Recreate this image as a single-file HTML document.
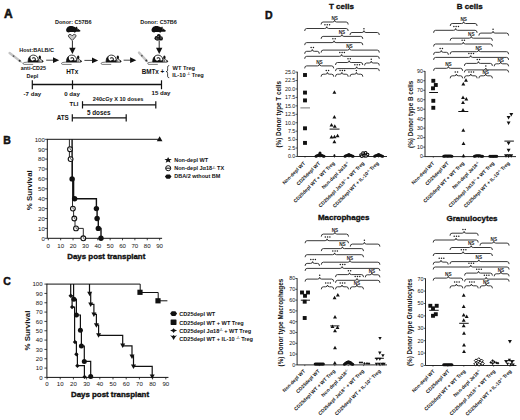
<!DOCTYPE html><html><head><meta charset="utf-8"><style>html,body{margin:0;padding:0;background:#fff;}svg{display:block;}text{font-family:"Liberation Sans",sans-serif;}</style></head><body>
<svg width="520" height="420" viewBox="0 0 520 420">
<rect width="520" height="420" fill="#fff"/>
<text x="4.00" y="17.90" font-size="12" text-anchor="start" font-weight="bold" fill="#111"  stroke="#111" stroke-width="0.54">A</text>
<text x="73.30" y="23.80" font-size="5.5" text-anchor="middle" font-weight="bold" fill="#111" >Donor: C57B6</text>
<text x="158.50" y="23.80" font-size="5.5" text-anchor="middle" font-weight="bold" fill="#111" >Donor: C57B6</text>
<text x="36.60" y="52.20" font-size="5.5" text-anchor="middle" font-weight="bold" fill="#111" >Host:BALB/C</text>
<text x="33.40" y="70.40" font-size="5.4" text-anchor="middle" font-weight="bold" fill="#111" >anti-CD25</text>
<text x="32.40" y="78.10" font-size="5.4" text-anchor="middle" font-weight="bold" fill="#111" >Depl</text>
<text x="72.30" y="73.60" font-size="6.4" text-anchor="middle" font-weight="bold" fill="#111" >HTx</text>
<text x="153.00" y="73.80" font-size="6.3" text-anchor="middle" font-weight="bold" fill="#111" >BMTx +</text>
<text x="172.60" y="69.80" font-size="5.7" text-anchor="start" font-weight="bold" fill="#111" >WT Treg</text>
<text x="172.3" y="77.2" font-size="5.7" font-weight="bold" fill="#111">IL-10 <tspan font-size="3.2" dy="-2">-/-</tspan><tspan dy="2"> Treg</tspan></text>
<path d="M169.2,65.6 C167.4,65.6 167.6,67 167.6,68.5 L167.6,70 C167.6,71.3 167,71.6 166,71.6 C167,71.6 167.6,72 167.6,73.3 L167.6,75 C167.6,76.5 167.4,77.7 169.2,77.7" fill="none" stroke="#111" stroke-width="0.8" />
<text x="32.40" y="96.00" font-size="6.1" text-anchor="middle" font-weight="bold" fill="#111" >-7 day</text>
<text x="72.00" y="96.00" font-size="6.1" text-anchor="middle" font-weight="bold" fill="#111" >0 day</text>
<text x="161.00" y="95.30" font-size="6.1" text-anchor="middle" font-weight="bold" fill="#111" >15 day</text>
<text x="78.50" y="106.30" font-size="6.0" text-anchor="end" font-weight="bold" fill="#111" >TLI</text>
<text x="92.70" y="100.90" font-size="5.6" text-anchor="start" font-weight="bold" fill="#111" >240cGy X 10 doses</text>
<text x="68.80" y="119.70" font-size="6.3" text-anchor="end" font-weight="bold" fill="#111" >ATS</text>
<text x="87.00" y="115.00" font-size="6.3" text-anchor="start" font-weight="bold" fill="#111" >5 doses</text>
<line x1="32.30" y1="84.50" x2="161.50" y2="84.50" stroke="#111" stroke-width="1.3" />
<line x1="32.30" y1="80.30" x2="32.30" y2="89.20" stroke="#111" stroke-width="1.2" />
<line x1="72.50" y1="80.30" x2="72.50" y2="89.20" stroke="#111" stroke-width="1.2" />
<line x1="161.50" y1="80.30" x2="161.50" y2="89.20" stroke="#111" stroke-width="1.2" />
<line x1="82.50" y1="104.80" x2="155.80" y2="104.80" stroke="#111" stroke-width="1.2" />
<line x1="82.50" y1="101.20" x2="82.50" y2="108.50" stroke="#111" stroke-width="1.2" />
<line x1="155.80" y1="101.20" x2="155.80" y2="108.50" stroke="#111" stroke-width="1.2" />
<line x1="72.30" y1="117.80" x2="126.20" y2="117.80" stroke="#111" stroke-width="1.2" />
<line x1="72.30" y1="114.20" x2="72.30" y2="121.50" stroke="#111" stroke-width="1.2" />
<line x1="126.20" y1="114.20" x2="126.20" y2="121.50" stroke="#111" stroke-width="1.2" />
<line x1="72.40" y1="41.00" x2="72.40" y2="48.90" stroke="#111" stroke-width="0.9" />
<path d="M69.20,47.70 L75.60,47.70 L72.40,53.90 Z" fill="#111"/>
<line x1="159.20" y1="40.50" x2="159.20" y2="48.90" stroke="#111" stroke-width="0.9" />
<path d="M156.00,47.70 L162.40,47.70 L159.20,53.90 Z" fill="#111"/>
<line x1="46.20" y1="60.20" x2="54.20" y2="60.20" stroke="#444" stroke-width="1.0" />
<path d="M53.00,57.30 L59.20,60.20 L53.00,63.10 Z" fill="#111"/>
<line x1="84.40" y1="60.40" x2="93.20" y2="60.40" stroke="#444" stroke-width="1.0" />
<path d="M92.00,57.50 L98.20,60.40 L92.00,63.30 Z" fill="#111"/>
<line x1="123.60" y1="60.20" x2="131.30" y2="60.20" stroke="#444" stroke-width="1.0" />
<path d="M130.10,57.30 L136.30,60.20 L130.10,63.10 Z" fill="#111"/>
<g transform="translate(22.60,54.50)"><path d="M6.0,7.5 L1.6,8.0 C0.2,8.2 0.2,9.9 1.6,9.9 L10.6,9.9" fill="none" stroke="#222" stroke-width="0.6"/><path d="M5.6,7.6 C5.3,3.2 7.8,0.6 10.8,0.6 C13.6,0.6 15.4,2.6 15.6,5.2 L15.6,7.6 Z" fill="#fff" stroke="#111" stroke-width="0.85"/><path d="M5.6,7.6 C5.3,4.4 6.4,2.4 8.2,1.4 C7.4,3.2 7.8,5.0 9.2,6.0 L11.2,6.4 L12.4,5.6 L14.0,6.0 L15.6,5.6 L15.6,7.6 Z" fill="#111"/><path d="M9.6,3.8 C10.6,2.8 12.8,3.2 12.8,4.8 C12.8,6.0 11.4,6.6 10.6,6.0" fill="none" stroke="#111" stroke-width="1.05"/><ellipse cx="17.2" cy="2.9" rx="1.15" ry="2.0" fill="#111"/><path d="M15.6,7.6 L15.9,4.8 C16.6,4.0 17.8,4.4 18.2,5.2 L20.2,6.3 C20.8,6.9 20.4,7.6 19.6,7.6 Z" fill="#fff" stroke="#111" stroke-width="0.8"/><circle cx="19.9" cy="6.8" r="0.75" fill="#111"/><circle cx="17.2" cy="6.4" r="0.6" fill="#111"/></g>
<g transform="translate(61.00,54.50)"><path d="M6.0,7.5 L1.6,8.0 C0.2,8.2 0.2,9.9 1.6,9.9 L10.6,9.9" fill="none" stroke="#222" stroke-width="0.6"/><path d="M5.6,7.6 C5.3,3.2 7.8,0.6 10.8,0.6 C13.6,0.6 15.4,2.6 15.6,5.2 L15.6,7.6 Z" fill="#fff" stroke="#111" stroke-width="0.85"/><path d="M5.6,7.6 C5.3,4.4 6.4,2.4 8.2,1.4 C7.4,3.2 7.8,5.0 9.2,6.0 L11.2,6.4 L12.4,5.6 L14.0,6.0 L15.6,5.6 L15.6,7.6 Z" fill="#111"/><path d="M9.6,3.8 C10.6,2.8 12.8,3.2 12.8,4.8 C12.8,6.0 11.4,6.6 10.6,6.0" fill="none" stroke="#111" stroke-width="1.05"/><ellipse cx="17.2" cy="2.9" rx="1.15" ry="2.0" fill="#111"/><path d="M15.6,7.6 L15.9,4.8 C16.6,4.0 17.8,4.4 18.2,5.2 L20.2,6.3 C20.8,6.9 20.4,7.6 19.6,7.6 Z" fill="#fff" stroke="#111" stroke-width="0.8"/><circle cx="19.9" cy="6.8" r="0.75" fill="#111"/><circle cx="17.2" cy="6.4" r="0.6" fill="#111"/></g>
<g transform="translate(100.60,54.50)"><path d="M6.0,7.5 L1.6,8.0 C0.2,8.2 0.2,9.9 1.6,9.9 L10.6,9.9" fill="none" stroke="#222" stroke-width="0.6"/><path d="M5.6,7.6 C5.3,3.2 7.8,0.6 10.8,0.6 C13.6,0.6 15.4,2.6 15.6,5.2 L15.6,7.6 Z" fill="#fff" stroke="#111" stroke-width="0.85"/><path d="M5.6,7.6 C5.3,4.4 6.4,2.4 8.2,1.4 C7.4,3.2 7.8,5.0 9.2,6.0 L11.2,6.4 L12.4,5.6 L14.0,6.0 L15.6,5.6 L15.6,7.6 Z" fill="#111"/><path d="M9.6,3.8 C10.6,2.8 12.8,3.2 12.8,4.8 C12.8,6.0 11.4,6.6 10.6,6.0" fill="none" stroke="#111" stroke-width="1.05"/><ellipse cx="17.2" cy="2.9" rx="1.15" ry="2.0" fill="#111"/><path d="M15.6,7.6 L15.9,4.8 C16.6,4.0 17.8,4.4 18.2,5.2 L20.2,6.3 C20.8,6.9 20.4,7.6 19.6,7.6 Z" fill="#fff" stroke="#111" stroke-width="0.8"/><circle cx="19.9" cy="6.8" r="0.75" fill="#111"/><circle cx="17.2" cy="6.4" r="0.6" fill="#111"/></g>
<g transform="translate(147.20,54.50)"><path d="M6.0,7.5 L1.6,8.0 C0.2,8.2 0.2,9.9 1.6,9.9 L10.6,9.9" fill="none" stroke="#222" stroke-width="0.6"/><path d="M5.6,7.6 C5.3,3.2 7.8,0.6 10.8,0.6 C13.6,0.6 15.4,2.6 15.6,5.2 L15.6,7.6 Z" fill="#fff" stroke="#111" stroke-width="0.85"/><path d="M5.6,7.6 C5.3,4.4 6.4,2.4 8.2,1.4 C7.4,3.2 7.8,5.0 9.2,6.0 L11.2,6.4 L12.4,5.6 L14.0,6.0 L15.6,5.6 L15.6,7.6 Z" fill="#111"/><path d="M9.6,3.8 C10.6,2.8 12.8,3.2 12.8,4.8 C12.8,6.0 11.4,6.6 10.6,6.0" fill="none" stroke="#111" stroke-width="1.05"/><ellipse cx="17.2" cy="2.9" rx="1.15" ry="2.0" fill="#111"/><path d="M15.6,7.6 L15.9,4.8 C16.6,4.0 17.8,4.4 18.2,5.2 L20.2,6.3 C20.8,6.9 20.4,7.6 19.6,7.6 Z" fill="#fff" stroke="#111" stroke-width="0.8"/><circle cx="19.9" cy="6.8" r="0.75" fill="#111"/><circle cx="17.2" cy="6.4" r="0.6" fill="#111"/></g>
<g transform="translate(66.00,25.80) scale(1.07)"><path d="M0.2,4.6 C-0.2,2.2 1.8,0.1 4.4,0.1 C6.4,0.1 8.0,0.7 9.2,1.6 L9.6,0.8 L10.4,1.0 L10.6,2.2 L13.4,4.4 C13.8,5.0 13.2,5.5 12.4,5.5 L9.4,5.6 L8.2,6.6 L7.2,5.8 L3.6,5.8 L2.6,6.2 C1.4,6.2 0.4,5.6 0.2,4.6 Z" fill="#111"/><circle cx="10.6" cy="2.9" r="0.5" fill="#777"/></g>
<g transform="translate(151.40,25.80) scale(1.07)"><path d="M0.2,4.6 C-0.2,2.2 1.8,0.1 4.4,0.1 C6.4,0.1 8.0,0.7 9.2,1.6 L9.6,0.8 L10.4,1.0 L10.6,2.2 L13.4,4.4 C13.8,5.0 13.2,5.5 12.4,5.5 L9.4,5.6 L8.2,6.6 L7.2,5.8 L3.6,5.8 L2.6,6.2 C1.4,6.2 0.4,5.6 0.2,4.6 Z" fill="#111"/><circle cx="10.6" cy="2.9" r="0.5" fill="#777"/></g>
<path d="M72.2,40.6 L68.9,37.0 C67.9,35.8 68.5,34.4 69.9,34.4 C71.0,34.4 71.7,35.1 72.2,35.8 C72.7,35.1 73.4,34.4 74.5,34.4 C75.9,34.4 76.5,35.8 75.5,37.0 Z" fill="#c8c8c8" stroke="#222" stroke-width="0.85" />
<circle cx="156.60" cy="38.20" r="2.1" fill="#111"/>
<circle cx="160.80" cy="38.40" r="2.2" fill="#111"/>
<circle cx="158.80" cy="36.00" r="2.0" fill="#111"/>
<circle cx="157.60" cy="39.20" r="1.6" fill="#333"/>
<circle cx="158.20" cy="36.40" r="0.7" fill="#888"/>
<circle cx="161.00" cy="38.00" r="0.7" fill="#888"/>
<circle cx="156.40" cy="38.00" r="0.6" fill="#888"/>
<line x1="9.60" y1="53.00" x2="20.16" y2="61.16" stroke="#c4c4c4" stroke-width="2.4" stroke-linecap="round"/>
<line x1="20.16" y1="61.16" x2="22.80" y2="63.20" stroke="#777" stroke-width="0.5" />
<circle cx="13.56" cy="56.06" r="0.9" fill="#555"/>
<circle cx="19.63" cy="60.75" r="1.0" fill="#333"/>
<line x1="139.00" y1="52.60" x2="146.68" y2="60.92" stroke="#c4c4c4" stroke-width="2.4" stroke-linecap="round"/>
<line x1="146.68" y1="60.92" x2="148.60" y2="63.00" stroke="#777" stroke-width="0.5" />
<circle cx="141.88" cy="55.72" r="0.9" fill="#555"/>
<circle cx="146.30" cy="60.50" r="1.0" fill="#333"/>
<text x="3.20" y="143.90" font-size="10.5" text-anchor="start" font-weight="bold" fill="#111"  stroke="#111" stroke-width="0.47">B</text>
<line x1="47.30" y1="138.90" x2="47.30" y2="238.30" stroke="#111" stroke-width="1.0" />
<line x1="47.30" y1="238.30" x2="162.10" y2="238.30" stroke="#111" stroke-width="1.0" />
<line x1="45.10" y1="238.30" x2="47.30" y2="238.30" stroke="#111" stroke-width="0.8" />
<text x="44.90" y="240.60" font-size="6.1" text-anchor="end" font-weight="normal" fill="#111" >0</text>
<line x1="45.10" y1="228.40" x2="47.30" y2="228.40" stroke="#111" stroke-width="0.8" />
<text x="44.90" y="230.70" font-size="6.1" text-anchor="end" font-weight="normal" fill="#111" >10</text>
<line x1="45.10" y1="218.50" x2="47.30" y2="218.50" stroke="#111" stroke-width="0.8" />
<text x="44.90" y="220.80" font-size="6.1" text-anchor="end" font-weight="normal" fill="#111" >20</text>
<line x1="45.10" y1="208.60" x2="47.30" y2="208.60" stroke="#111" stroke-width="0.8" />
<text x="44.90" y="210.90" font-size="6.1" text-anchor="end" font-weight="normal" fill="#111" >30</text>
<line x1="45.10" y1="198.70" x2="47.30" y2="198.70" stroke="#111" stroke-width="0.8" />
<text x="44.90" y="201.00" font-size="6.1" text-anchor="end" font-weight="normal" fill="#111" >40</text>
<line x1="45.10" y1="188.80" x2="47.30" y2="188.80" stroke="#111" stroke-width="0.8" />
<text x="44.90" y="191.10" font-size="6.1" text-anchor="end" font-weight="normal" fill="#111" >50</text>
<line x1="45.10" y1="178.90" x2="47.30" y2="178.90" stroke="#111" stroke-width="0.8" />
<text x="44.90" y="181.20" font-size="6.1" text-anchor="end" font-weight="normal" fill="#111" >60</text>
<line x1="45.10" y1="169.00" x2="47.30" y2="169.00" stroke="#111" stroke-width="0.8" />
<text x="44.90" y="171.30" font-size="6.1" text-anchor="end" font-weight="normal" fill="#111" >70</text>
<line x1="45.10" y1="159.10" x2="47.30" y2="159.10" stroke="#111" stroke-width="0.8" />
<text x="44.90" y="161.40" font-size="6.1" text-anchor="end" font-weight="normal" fill="#111" >80</text>
<line x1="45.10" y1="149.20" x2="47.30" y2="149.20" stroke="#111" stroke-width="0.8" />
<text x="44.90" y="151.50" font-size="6.1" text-anchor="end" font-weight="normal" fill="#111" >90</text>
<line x1="45.10" y1="139.30" x2="47.30" y2="139.30" stroke="#111" stroke-width="0.8" />
<text x="44.90" y="141.60" font-size="6.1" text-anchor="end" font-weight="normal" fill="#111" >100</text>
<line x1="48.30" y1="238.30" x2="48.30" y2="240.30" stroke="#111" stroke-width="0.8" />
<text x="48.30" y="247.60" font-size="6.1" text-anchor="middle" font-weight="normal" fill="#111" >0</text>
<line x1="60.67" y1="238.30" x2="60.67" y2="240.30" stroke="#111" stroke-width="0.8" />
<text x="60.67" y="247.60" font-size="6.1" text-anchor="middle" font-weight="normal" fill="#111" >10</text>
<line x1="73.04" y1="238.30" x2="73.04" y2="240.30" stroke="#111" stroke-width="0.8" />
<text x="73.04" y="247.60" font-size="6.1" text-anchor="middle" font-weight="normal" fill="#111" >20</text>
<line x1="85.41" y1="238.30" x2="85.41" y2="240.30" stroke="#111" stroke-width="0.8" />
<text x="85.41" y="247.60" font-size="6.1" text-anchor="middle" font-weight="normal" fill="#111" >30</text>
<line x1="97.78" y1="238.30" x2="97.78" y2="240.30" stroke="#111" stroke-width="0.8" />
<text x="97.78" y="247.60" font-size="6.1" text-anchor="middle" font-weight="normal" fill="#111" >40</text>
<line x1="110.15" y1="238.30" x2="110.15" y2="240.30" stroke="#111" stroke-width="0.8" />
<text x="110.15" y="247.60" font-size="6.1" text-anchor="middle" font-weight="normal" fill="#111" >50</text>
<line x1="122.52" y1="238.30" x2="122.52" y2="240.30" stroke="#111" stroke-width="0.8" />
<text x="122.52" y="247.60" font-size="6.1" text-anchor="middle" font-weight="normal" fill="#111" >60</text>
<line x1="134.89" y1="238.30" x2="134.89" y2="240.30" stroke="#111" stroke-width="0.8" />
<text x="134.89" y="247.60" font-size="6.1" text-anchor="middle" font-weight="normal" fill="#111" >70</text>
<line x1="147.26" y1="238.30" x2="147.26" y2="240.30" stroke="#111" stroke-width="0.8" />
<text x="147.26" y="247.60" font-size="6.1" text-anchor="middle" font-weight="normal" fill="#111" >80</text>
<line x1="159.63" y1="238.30" x2="159.63" y2="240.30" stroke="#111" stroke-width="0.8" />
<text x="159.63" y="247.60" font-size="6.1" text-anchor="middle" font-weight="normal" fill="#111" >90</text>
<text x="106.30" y="258.70" font-size="7.9" text-anchor="middle" font-weight="bold" fill="#111"  stroke="#111" stroke-width="0.36">Days post transplant</text>
<text transform="translate(31.5,190.2) rotate(-90)" font-size="7.9" font-weight="bold" text-anchor="middle" fill="#111">% Survival</text>
<line x1="47.30" y1="139.30" x2="159.63" y2="139.30" stroke="#111" stroke-width="1.0" />
<path d="M159.63,136.28 L162.43,141.32 L156.83,141.32 Z" fill="#111"/>
<path d="M69.4,139.30 V159.10 H72.5 V208.60 H73.6 V218.50 H75.0 V228.40 H83.3 V238.30" fill="none" stroke="#111" stroke-width="0.9" />
<path d="M72.1,139.30 V178.90 H73.6 V198.70 H96.4 V208.60 H97.1 V218.50 H98.3 V228.40 H101.0 V238.30" fill="none" stroke="#111" stroke-width="1.4" />
<circle cx="70.00" cy="149.20" r="2.4" fill="#fff" stroke="#111" stroke-width="1.1"/>
<path d="M70.00,147.52 V149.20 L71.68,150.16" fill="none" stroke="#111" stroke-width="0.6"/>
<circle cx="70.60" cy="159.10" r="2.4" fill="#fff" stroke="#111" stroke-width="1.1"/>
<path d="M70.60,157.42 V159.10 L72.28,160.06" fill="none" stroke="#111" stroke-width="0.6"/>
<circle cx="72.90" cy="208.60" r="2.4" fill="#fff" stroke="#111" stroke-width="1.1"/>
<path d="M72.90,206.92 V208.60 L74.58,209.56" fill="none" stroke="#111" stroke-width="0.6"/>
<circle cx="74.30" cy="218.50" r="2.4" fill="#fff" stroke="#111" stroke-width="1.1"/>
<path d="M74.30,216.82 V218.50 L75.98,219.46" fill="none" stroke="#111" stroke-width="0.6"/>
<circle cx="76.00" cy="228.40" r="2.4" fill="#fff" stroke="#111" stroke-width="1.1"/>
<path d="M76.00,226.72 V228.40 L77.68,229.36" fill="none" stroke="#111" stroke-width="0.6"/>
<circle cx="83.30" cy="238.30" r="2.4" fill="#fff" stroke="#111" stroke-width="1.1"/>
<path d="M83.30,236.62 V238.30 L84.98,239.26" fill="none" stroke="#111" stroke-width="0.6"/>
<circle cx="72.10" cy="178.90" r="2.7" fill="#111"/>
<circle cx="74.60" cy="198.70" r="2.7" fill="#111"/>
<circle cx="96.40" cy="208.60" r="2.7" fill="#111"/>
<circle cx="97.10" cy="218.50" r="2.7" fill="#111"/>
<circle cx="98.30" cy="228.40" r="2.7" fill="#111"/>
<circle cx="101.00" cy="238.30" r="2.7" fill="#111"/>
<g transform="translate(168.1,160.0) scale(1,0.82)"><polygon points="0,-3.8 1.0,-1.2 3.7,-1.2 1.6,0.6 2.4,3.4 0,1.8 -2.4,3.4 -1.6,0.6 -3.7,-1.2 -1.0,-1.2" fill="#111"/></g>
<circle cx="168.2" cy="168.2" r="2.55" fill="#fff" stroke="#111" stroke-width="1.0"/>
<line x1="165.80" y1="168.20" x2="170.60" y2="168.20" stroke="#111" stroke-width="1.0" />
<polygon points="164.9,176.6 166.6,174.4 169.8,174.4 171.5,176.6 169.8,178.8 166.6,178.8" fill="#111"/>
<text x="174.20" y="162.10" font-size="5.5" text-anchor="start" font-weight="bold" fill="#111" >Non-depl WT</text>
<text x="174.2" y="170.3" font-size="5.5" font-weight="bold" fill="#111">Non-depl J&#945;18<tspan font-size="3.6" dy="-1.8">-/-</tspan><tspan dy="1.8"> TX</tspan></text>
<text x="174.20" y="178.40" font-size="5.5" text-anchor="start" font-weight="bold" fill="#111" >DBA/2 wthout BM</text>
<text x="3.20" y="285.20" font-size="10.5" text-anchor="start" font-weight="bold" fill="#111"  stroke="#111" stroke-width="0.47">C</text>
<line x1="46.90" y1="283.70" x2="46.90" y2="377.40" stroke="#111" stroke-width="1.0" />
<line x1="46.90" y1="377.40" x2="168.44" y2="377.40" stroke="#111" stroke-width="1.0" />
<line x1="44.40" y1="377.40" x2="46.90" y2="377.40" stroke="#111" stroke-width="0.8" />
<text x="42.60" y="379.70" font-size="6.1" text-anchor="end" font-weight="normal" fill="#111" >0</text>
<line x1="44.40" y1="368.07" x2="46.90" y2="368.07" stroke="#111" stroke-width="0.8" />
<text x="42.60" y="370.37" font-size="6.1" text-anchor="end" font-weight="normal" fill="#111" >10</text>
<line x1="44.40" y1="358.74" x2="46.90" y2="358.74" stroke="#111" stroke-width="0.8" />
<text x="42.60" y="361.04" font-size="6.1" text-anchor="end" font-weight="normal" fill="#111" >20</text>
<line x1="44.40" y1="349.41" x2="46.90" y2="349.41" stroke="#111" stroke-width="0.8" />
<text x="42.60" y="351.71" font-size="6.1" text-anchor="end" font-weight="normal" fill="#111" >30</text>
<line x1="44.40" y1="340.08" x2="46.90" y2="340.08" stroke="#111" stroke-width="0.8" />
<text x="42.60" y="342.38" font-size="6.1" text-anchor="end" font-weight="normal" fill="#111" >40</text>
<line x1="44.40" y1="330.75" x2="46.90" y2="330.75" stroke="#111" stroke-width="0.8" />
<text x="42.60" y="333.05" font-size="6.1" text-anchor="end" font-weight="normal" fill="#111" >50</text>
<line x1="44.40" y1="321.42" x2="46.90" y2="321.42" stroke="#111" stroke-width="0.8" />
<text x="42.60" y="323.72" font-size="6.1" text-anchor="end" font-weight="normal" fill="#111" >60</text>
<line x1="44.40" y1="312.09" x2="46.90" y2="312.09" stroke="#111" stroke-width="0.8" />
<text x="42.60" y="314.39" font-size="6.1" text-anchor="end" font-weight="normal" fill="#111" >70</text>
<line x1="44.40" y1="302.76" x2="46.90" y2="302.76" stroke="#111" stroke-width="0.8" />
<text x="42.60" y="305.06" font-size="6.1" text-anchor="end" font-weight="normal" fill="#111" >80</text>
<line x1="44.40" y1="293.43" x2="46.90" y2="293.43" stroke="#111" stroke-width="0.8" />
<text x="42.60" y="295.73" font-size="6.1" text-anchor="end" font-weight="normal" fill="#111" >90</text>
<line x1="44.40" y1="284.10" x2="46.90" y2="284.10" stroke="#111" stroke-width="0.8" />
<text x="42.60" y="286.40" font-size="6.1" text-anchor="end" font-weight="normal" fill="#111" >100</text>
<line x1="47.00" y1="377.40" x2="47.00" y2="379.40" stroke="#111" stroke-width="0.8" />
<text x="47.00" y="386.40" font-size="6.1" text-anchor="middle" font-weight="normal" fill="#111" >0</text>
<line x1="60.20" y1="377.40" x2="60.20" y2="379.40" stroke="#111" stroke-width="0.8" />
<text x="60.20" y="386.40" font-size="6.1" text-anchor="middle" font-weight="normal" fill="#111" >10</text>
<line x1="73.40" y1="377.40" x2="73.40" y2="379.40" stroke="#111" stroke-width="0.8" />
<text x="73.40" y="386.40" font-size="6.1" text-anchor="middle" font-weight="normal" fill="#111" >20</text>
<line x1="86.60" y1="377.40" x2="86.60" y2="379.40" stroke="#111" stroke-width="0.8" />
<text x="86.60" y="386.40" font-size="6.1" text-anchor="middle" font-weight="normal" fill="#111" >30</text>
<line x1="99.80" y1="377.40" x2="99.80" y2="379.40" stroke="#111" stroke-width="0.8" />
<text x="99.80" y="386.40" font-size="6.1" text-anchor="middle" font-weight="normal" fill="#111" >40</text>
<line x1="113.00" y1="377.40" x2="113.00" y2="379.40" stroke="#111" stroke-width="0.8" />
<text x="113.00" y="386.40" font-size="6.1" text-anchor="middle" font-weight="normal" fill="#111" >50</text>
<line x1="126.20" y1="377.40" x2="126.20" y2="379.40" stroke="#111" stroke-width="0.8" />
<text x="126.20" y="386.40" font-size="6.1" text-anchor="middle" font-weight="normal" fill="#111" >60</text>
<line x1="139.40" y1="377.40" x2="139.40" y2="379.40" stroke="#111" stroke-width="0.8" />
<text x="139.40" y="386.40" font-size="6.1" text-anchor="middle" font-weight="normal" fill="#111" >70</text>
<line x1="152.60" y1="377.40" x2="152.60" y2="379.40" stroke="#111" stroke-width="0.8" />
<text x="152.60" y="386.40" font-size="6.1" text-anchor="middle" font-weight="normal" fill="#111" >80</text>
<line x1="165.80" y1="377.40" x2="165.80" y2="379.40" stroke="#111" stroke-width="0.8" />
<text x="165.80" y="386.40" font-size="6.1" text-anchor="middle" font-weight="normal" fill="#111" >90</text>
<text x="110.00" y="397.40" font-size="7.9" text-anchor="middle" font-weight="bold" fill="#111"  stroke="#111" stroke-width="0.36">Days post transplant</text>
<text transform="translate(30.3,330.6) rotate(-90)" font-size="7.9" font-weight="bold" text-anchor="middle" fill="#111">% Survival</text>
<path d="M46.90,284.10 L140.2,284.10 L140.2,292.5 L158.2,292.5 L158.2,300.8 L167.4,300.8" fill="none" stroke="#111" stroke-width="1.0" />
<path d="M73.6,284.10 V299.3 H76.4 V315.0 H80.4 V330.3 H81.4 V346.0 H84.3 V361.4 H90.7 V377.40" fill="none" stroke="#111" stroke-width="1.2" />
<path d="M70.7,284.10 V295.7 H72.1 V307.1 H74.6 V342.1 H76.4 V354.3 H77.4 V365.7 H84.4 V377.40" fill="none" stroke="#111" stroke-width="1.2" />
<path d="M89.5,284.10 V293.6 H90.7 V304.3 H93.9 V314.3 H96.4 V325.0 H98.6 V335.4 H122.7 V345.8 H132.0 V356.2 H133.5 V366.3 H152.2 V377.40" fill="none" stroke="#111" stroke-width="1.2" />
<circle cx="73.90" cy="299.30" r="2.5" fill="#111"/>
<circle cx="76.40" cy="315.00" r="2.5" fill="#111"/>
<circle cx="80.40" cy="330.30" r="2.5" fill="#111"/>
<circle cx="81.40" cy="346.00" r="2.5" fill="#111"/>
<circle cx="84.30" cy="361.40" r="2.5" fill="#111"/>
<circle cx="90.70" cy="376.60" r="2.5" fill="#111"/>
<rect x="137.40" y="289.70" width="5.2" height="5.2" fill="#111"/>
<rect x="155.40" y="298.20" width="5.2" height="5.2" fill="#111"/>
<path d="M70.70,293.50 L72.90,295.70 L70.70,297.90 L68.50,295.70 Z" fill="#111" />
<path d="M72.10,304.90 L74.30,307.10 L72.10,309.30 L69.90,307.10 Z" fill="#111" />
<path d="M75.00,339.90 L77.20,342.10 L75.00,344.30 L72.80,342.10 Z" fill="#111" />
<path d="M76.40,352.10 L78.60,354.30 L76.40,356.50 L74.20,354.30 Z" fill="#111" />
<path d="M77.40,363.50 L79.60,365.70 L77.40,367.90 L75.20,365.70 Z" fill="#111" />
<path d="M84.60,374.70 L86.80,376.90 L84.60,379.10 L82.40,376.90 Z" fill="#111" />
<path d="M89.70,296.30 L92.20,291.80 L87.20,291.80 Z" fill="#111"/>
<path d="M90.70,307.00 L93.20,302.50 L88.20,302.50 Z" fill="#111"/>
<path d="M93.90,317.00 L96.40,312.50 L91.40,312.50 Z" fill="#111"/>
<path d="M96.40,327.70 L98.90,323.20 L93.90,323.20 Z" fill="#111"/>
<path d="M98.60,337.70 L101.10,333.20 L96.10,333.20 Z" fill="#111"/>
<path d="M122.70,348.10 L125.20,343.60 L120.20,343.60 Z" fill="#111"/>
<path d="M132.00,358.90 L134.50,354.40 L129.50,354.40 Z" fill="#111"/>
<path d="M133.50,368.90 L136.00,364.40 L131.00,364.40 Z" fill="#111"/>
<path d="M152.20,378.90 L154.70,374.40 L149.70,374.40 Z" fill="#111"/>
<polygon points="170.1,313.6 171.8,311.3 175.4,311.3 177.1,313.6 175.4,315.9 171.8,315.9" fill="#111"/>
<rect x="170.6" y="319.5" width="5.9" height="5.4" rx="0.6" fill="#111"/>
<polygon points="170.1,330.6 172.5,329.6 173.6,328.3 174.7,329.6 177.1,330.6 174.7,331.6 173.6,332.9 172.5,331.6" fill="#111"/>
<polygon points="170.1,335.3 172.4,335.9 173.6,335.1 174.8,335.9 177.1,335.3 175.2,337.3 173.6,339.9 172.0,337.3" fill="#111"/>
<text x="179.20" y="316.20" font-size="5.6" text-anchor="start" font-weight="bold" fill="#111" >CD25depl WT</text>
<text x="179.20" y="324.50" font-size="5.6" text-anchor="start" font-weight="bold" fill="#111" >CD25depl WT + WT Treg</text>
<text x="179.2" y="332.8" font-size="5.6" font-weight="bold" fill="#111">CD25depl J&#945;18<tspan font-size="3.6" dy="-1.8">-/-</tspan><tspan dy="1.8"> + WT Treg</tspan></text>
<text x="179.2" y="340.5" font-size="5.6" font-weight="bold" fill="#111">CD25depl WT + IL-10 <tspan font-size="3.6" dy="-1.8">-/-</tspan><tspan dy="1.8"> Treg</tspan></text>
<text x="265.00" y="19.30" font-size="10.5" text-anchor="start" font-weight="bold" fill="#111"  stroke="#111" stroke-width="0.47">D</text>
<text x="341.40" y="8.90" font-size="8.0" text-anchor="middle" font-weight="bold" fill="#111"  stroke="#111" stroke-width="0.36">T cells</text>
<line x1="297.30" y1="71.80" x2="297.30" y2="156.50" stroke="#111" stroke-width="0.9" />
<line x1="297.30" y1="156.50" x2="387.00" y2="156.50" stroke="#111" stroke-width="0.9" />
<line x1="295.50" y1="156.50" x2="297.30" y2="156.50" stroke="#111" stroke-width="0.7" />
<text x="295.30" y="158.35" font-size="5.3" text-anchor="end" font-weight="normal" fill="#111" >0.0</text>
<line x1="295.50" y1="148.06" x2="297.30" y2="148.06" stroke="#111" stroke-width="0.7" />
<text x="295.30" y="149.91" font-size="5.3" text-anchor="end" font-weight="normal" fill="#111" >2.5</text>
<line x1="295.50" y1="139.62" x2="297.30" y2="139.62" stroke="#111" stroke-width="0.7" />
<text x="295.30" y="141.47" font-size="5.3" text-anchor="end" font-weight="normal" fill="#111" >5.0</text>
<line x1="295.50" y1="131.18" x2="297.30" y2="131.18" stroke="#111" stroke-width="0.7" />
<text x="295.30" y="133.03" font-size="5.3" text-anchor="end" font-weight="normal" fill="#111" >7.5</text>
<line x1="295.50" y1="122.74" x2="297.30" y2="122.74" stroke="#111" stroke-width="0.7" />
<text x="295.30" y="124.59" font-size="5.3" text-anchor="end" font-weight="normal" fill="#111" >10.0</text>
<line x1="295.50" y1="114.30" x2="297.30" y2="114.30" stroke="#111" stroke-width="0.7" />
<text x="295.30" y="116.15" font-size="5.3" text-anchor="end" font-weight="normal" fill="#111" >12.5</text>
<line x1="295.50" y1="105.86" x2="297.30" y2="105.86" stroke="#111" stroke-width="0.7" />
<text x="295.30" y="107.71" font-size="5.3" text-anchor="end" font-weight="normal" fill="#111" >15.0</text>
<line x1="295.50" y1="97.42" x2="297.30" y2="97.42" stroke="#111" stroke-width="0.7" />
<text x="295.30" y="99.27" font-size="5.3" text-anchor="end" font-weight="normal" fill="#111" >17.5</text>
<line x1="295.50" y1="88.98" x2="297.30" y2="88.98" stroke="#111" stroke-width="0.7" />
<text x="295.30" y="90.83" font-size="5.3" text-anchor="end" font-weight="normal" fill="#111" >20.0</text>
<line x1="295.50" y1="80.54" x2="297.30" y2="80.54" stroke="#111" stroke-width="0.7" />
<text x="295.30" y="82.39" font-size="5.3" text-anchor="end" font-weight="normal" fill="#111" >22.5</text>
<line x1="295.50" y1="72.10" x2="297.30" y2="72.10" stroke="#111" stroke-width="0.7" />
<text x="295.30" y="73.95" font-size="5.3" text-anchor="end" font-weight="normal" fill="#111" >25.0</text>
<line x1="305.00" y1="156.50" x2="305.00" y2="157.70" stroke="#111" stroke-width="0.6" />
<line x1="320.00" y1="156.50" x2="320.00" y2="157.70" stroke="#111" stroke-width="0.6" />
<line x1="334.50" y1="156.50" x2="334.50" y2="157.70" stroke="#111" stroke-width="0.6" />
<line x1="349.00" y1="156.50" x2="349.00" y2="157.70" stroke="#111" stroke-width="0.6" />
<line x1="364.20" y1="156.50" x2="364.20" y2="157.70" stroke="#111" stroke-width="0.6" />
<line x1="378.60" y1="156.50" x2="378.60" y2="157.70" stroke="#111" stroke-width="0.6" />
<text transform="translate(280.70,114.20) rotate(-90)" font-size="6.35" font-weight="bold" text-anchor="middle" fill="#111">(%) Donor type T cells</text>
<text transform="translate(305.50,163.60) rotate(-45)" font-size="4.85" font-weight="bold" text-anchor="end" fill="#111">Non-depl WT</text>
<text transform="translate(320.50,163.60) rotate(-45)" font-size="4.85" font-weight="bold" text-anchor="end" fill="#111">CD25depl WT</text>
<text transform="translate(335.00,163.60) rotate(-45)" font-size="4.85" font-weight="bold" text-anchor="end" fill="#111">CD25depl WT + WT Treg</text>
<text transform="translate(349.50,163.60) rotate(-45)" font-size="4.85" font-weight="bold" text-anchor="end" fill="#111">Non-depl J&#945;18<tspan font-size='3.2' dy='-1.6'>-/-</tspan></text>
<text transform="translate(364.70,163.60) rotate(-45)" font-size="4.85" font-weight="bold" text-anchor="end" fill="#111">CD25depl J&#945;18<tspan font-size='3.2' dy='-1.6'>-/-</tspan><tspan dy='1.6'> + WT Treg</tspan></text>
<text transform="translate(379.10,163.60) rotate(-45)" font-size="4.85" font-weight="bold" text-anchor="end" fill="#111">CD25depl  WT + IL-10<tspan font-size='3.2' dy='-1.6'>-/-</tspan><tspan dy='1.6'> Treg</tspan></text>
<path d="M321.10,24.50 Q321.10,22.00 323.10,22.00 L332.65,22.00 Q334.65,22.00 334.65,20.20 Q334.65,22.00 336.65,22.00 L346.20,22.00 Q348.20,22.00 348.20,24.50" fill="none" stroke="#222" stroke-width="0.9"/>
<text x="334.65" y="19.80" font-size="4.7" text-anchor="middle" font-weight="bold" fill="#1a1a1a" >NS</text>
<path d="M304.70,31.00 Q304.70,28.50 306.70,28.50 L324.75,28.50 Q326.75,28.50 326.75,26.70 Q326.75,28.50 328.75,28.50 L346.20,28.50 Q348.20,28.50 348.20,31.00" fill="none" stroke="#222" stroke-width="0.9"/>
<circle cx="324.95" cy="24.70" r="0.75" fill="#1a1a1a"/>
<circle cx="327.25" cy="24.70" r="0.75" fill="#1a1a1a"/>
<circle cx="329.55" cy="24.70" r="0.75" fill="#1a1a1a"/>
<path d="M350.00,35.00 Q350.00,32.50 352.00,32.50 L361.95,32.50 Q363.95,32.50 363.95,30.70 Q363.95,32.50 365.95,32.50 L377.30,32.50 Q379.30,32.50 379.30,35.00" fill="none" stroke="#222" stroke-width="0.9"/>
<circle cx="363.95" cy="28.70" r="0.75" fill="#1a1a1a"/>
<path d="M321.10,38.90 Q321.10,36.40 323.10,36.40 L339.95,36.40 Q341.95,36.40 341.95,34.60 Q341.95,36.40 343.95,36.40 L360.80,36.40 Q362.80,36.40 362.80,38.90" fill="none" stroke="#222" stroke-width="0.9"/>
<text x="341.95" y="34.20" font-size="4.7" text-anchor="middle" font-weight="bold" fill="#1a1a1a" >NS</text>
<path d="M304.70,45.10 Q304.70,42.60 306.70,42.60 L332.05,42.60 Q334.05,42.60 334.05,40.80 Q334.05,42.60 336.05,42.60 L360.80,42.60 Q362.80,42.60 362.80,45.10" fill="none" stroke="#222" stroke-width="0.9"/>
<circle cx="332.90" cy="38.80" r="0.75" fill="#1a1a1a"/>
<circle cx="335.20" cy="38.80" r="0.75" fill="#1a1a1a"/>
<path d="M321.10,52.60 Q321.10,50.10 323.10,50.10 L347.50,50.10 Q349.50,50.10 349.50,48.30 Q349.50,50.10 351.50,50.10 L377.30,50.10 Q379.30,50.10 379.30,52.60" fill="none" stroke="#222" stroke-width="0.9"/>
<text x="349.50" y="47.90" font-size="4.7" text-anchor="middle" font-weight="bold" fill="#1a1a1a" >NS</text>
<path d="M304.70,53.80 Q304.70,51.30 306.70,51.30 L310.30,51.30 Q312.30,51.30 312.30,49.50 Q312.30,51.30 314.30,51.30 L317.30,51.30 Q319.30,51.30 319.30,53.80" fill="none" stroke="#222" stroke-width="0.9"/>
<circle cx="311.15" cy="47.50" r="0.75" fill="#1a1a1a"/>
<circle cx="313.45" cy="47.50" r="0.75" fill="#1a1a1a"/>
<path d="M304.70,58.80 Q304.70,56.30 306.70,56.30 L339.60,56.30 Q341.60,56.30 341.60,54.50 Q341.60,56.30 343.60,56.30 L377.30,56.30 Q379.30,56.30 379.30,58.80" fill="none" stroke="#222" stroke-width="0.9"/>
<circle cx="339.80" cy="52.50" r="0.75" fill="#1a1a1a"/>
<circle cx="342.10" cy="52.50" r="0.75" fill="#1a1a1a"/>
<circle cx="344.40" cy="52.50" r="0.75" fill="#1a1a1a"/>
<path d="M304.70,68.40 Q304.70,65.90 306.70,65.90 L317.50,65.90 Q319.50,65.90 319.50,64.10 Q319.50,65.90 321.50,65.90 L331.70,65.90 Q333.70,65.90 333.70,68.40" fill="none" stroke="#222" stroke-width="0.9"/>
<text x="319.50" y="63.70" font-size="4.7" text-anchor="middle" font-weight="bold" fill="#1a1a1a" >NS</text>
<path d="M335.50,65.00 Q335.50,62.50 337.50,62.50 L347.15,62.50 Q349.15,62.50 349.15,60.70 Q349.15,62.50 351.15,62.50 L360.80,62.50 Q362.80,62.50 362.80,65.00" fill="none" stroke="#222" stroke-width="0.9"/>
<circle cx="348.00" cy="58.70" r="0.75" fill="#1a1a1a"/>
<circle cx="350.30" cy="58.70" r="0.75" fill="#1a1a1a"/>
<path d="M364.60,65.50 Q364.60,63.00 366.60,63.00 L369.25,63.00 Q371.25,63.00 371.25,61.20 Q371.25,63.00 373.25,63.00 L377.30,63.00 Q379.30,63.00 379.30,65.50" fill="none" stroke="#222" stroke-width="0.9"/>
<circle cx="371.25" cy="59.20" r="0.75" fill="#1a1a1a"/>
<path d="M335.50,71.10 Q335.50,68.60 337.50,68.60 L354.70,68.60 Q356.70,68.60 356.70,66.80 Q356.70,68.60 358.70,68.60 L377.30,68.60 Q379.30,68.60 379.30,71.10" fill="none" stroke="#222" stroke-width="0.9"/>
<circle cx="354.90" cy="64.80" r="0.75" fill="#1a1a1a"/>
<circle cx="357.20" cy="64.80" r="0.75" fill="#1a1a1a"/>
<circle cx="359.50" cy="64.80" r="0.75" fill="#1a1a1a"/>
<path d="M321.10,76.70 Q321.10,74.20 323.10,74.20 L325.40,74.20 Q327.40,74.20 327.40,72.40 Q327.40,74.20 329.40,74.20 L331.70,74.20 Q333.70,74.20 333.70,76.70" fill="none" stroke="#222" stroke-width="0.9"/>
<circle cx="326.25" cy="70.40" r="0.75" fill="#1a1a1a"/>
<circle cx="328.55" cy="70.40" r="0.75" fill="#1a1a1a"/>
<path d="M335.50,76.70 Q335.50,74.20 337.50,74.20 L339.85,74.20 Q341.85,74.20 341.85,72.40 Q341.85,74.20 343.85,74.20 L346.20,74.20 Q348.20,74.20 348.20,76.70" fill="none" stroke="#222" stroke-width="0.9"/>
<circle cx="340.05" cy="70.40" r="0.75" fill="#1a1a1a"/>
<circle cx="342.35" cy="70.40" r="0.75" fill="#1a1a1a"/>
<circle cx="344.65" cy="70.40" r="0.75" fill="#1a1a1a"/>
<path d="M350.00,76.70 Q350.00,74.20 352.00,74.20 L354.40,74.20 Q356.40,74.20 356.40,72.40 Q356.40,74.20 358.40,74.20 L360.80,74.20 Q362.80,74.20 362.80,76.70" fill="none" stroke="#222" stroke-width="0.9"/>
<circle cx="356.40" cy="70.40" r="0.75" fill="#1a1a1a"/>
<rect x="303.05" y="73.05" width="3.9" height="3.9" fill="#111"/>
<rect x="303.05" y="90.65" width="3.9" height="3.9" fill="#111"/>
<rect x="303.05" y="98.45" width="3.9" height="3.9" fill="#111"/>
<rect x="303.05" y="126.35" width="3.9" height="3.9" fill="#111"/>
<rect x="303.05" y="140.95" width="3.9" height="3.9" fill="#111"/>
<line x1="300.40" y1="107.90" x2="310.00" y2="107.90" stroke="#666" stroke-width="0.9" />
<path d="M334.40,90.29 L336.35,93.80 L332.45,93.80 Z" fill="#111"/>
<path d="M334.40,114.99 L336.35,118.50 L332.45,118.50 Z" fill="#111"/>
<path d="M331.50,122.99 L333.45,126.50 L329.55,126.50 Z" fill="#111"/>
<path d="M334.80,124.19 L336.75,127.70 L332.85,127.70 Z" fill="#111"/>
<path d="M331.50,134.99 L333.45,138.50 L329.55,138.50 Z" fill="#111"/>
<path d="M334.50,134.69 L336.45,138.20 L332.55,138.20 Z" fill="#111"/>
<path d="M337.60,133.69 L339.55,137.20 L335.65,137.20 Z" fill="#111"/>
<path d="M334.40,139.79 L336.35,143.30 L332.45,143.30 Z" fill="#111"/>
<path d="M334.40,154.00 L335.70,155.30 L334.40,156.60 L333.10,155.30 Z" fill="#111" />
<line x1="329.60" y1="129.10" x2="339.50" y2="129.10" stroke="#111" stroke-width="1.0" />
<circle cx="316.00" cy="156.20" r="1.5" fill="#111"/>
<circle cx="317.00" cy="155.80" r="1.5" fill="#111"/>
<circle cx="318.00" cy="155.40" r="1.5" fill="#111"/>
<circle cx="319.00" cy="154.80" r="1.5" fill="#111"/>
<circle cx="320.00" cy="153.00" r="1.5" fill="#111"/>
<circle cx="321.00" cy="155.00" r="1.5" fill="#111"/>
<circle cx="322.00" cy="155.60" r="1.5" fill="#111"/>
<circle cx="323.00" cy="156.00" r="1.5" fill="#111"/>
<circle cx="324.00" cy="156.20" r="1.5" fill="#111"/>
<circle cx="345.00" cy="156.20" r="1.5" fill="#111"/>
<circle cx="346.00" cy="155.80" r="1.5" fill="#111"/>
<circle cx="347.00" cy="155.40" r="1.5" fill="#111"/>
<circle cx="348.00" cy="155.00" r="1.5" fill="#111"/>
<circle cx="349.00" cy="154.60" r="1.5" fill="#111"/>
<circle cx="350.00" cy="155.20" r="1.5" fill="#111"/>
<circle cx="351.00" cy="155.60" r="1.5" fill="#111"/>
<circle cx="352.00" cy="156.00" r="1.5" fill="#111"/>
<circle cx="353.00" cy="156.20" r="1.5" fill="#111"/>
<circle cx="361.00" cy="155.00" r="1.3" fill="#fff" stroke="#000" stroke-width="1.05"/>
<circle cx="363.00" cy="153.00" r="1.3" fill="#fff" stroke="#000" stroke-width="1.05"/>
<circle cx="365.60" cy="152.80" r="1.3" fill="#fff" stroke="#000" stroke-width="1.05"/>
<circle cx="367.60" cy="154.60" r="1.3" fill="#fff" stroke="#000" stroke-width="1.05"/>
<circle cx="364.20" cy="155.60" r="1.3" fill="#fff" stroke="#000" stroke-width="1.05"/>
<circle cx="366.00" cy="156.00" r="1.3" fill="#fff" stroke="#000" stroke-width="1.05"/>
<circle cx="361.80" cy="156.20" r="1.3" fill="#fff" stroke="#000" stroke-width="1.05"/>
<circle cx="374.60" cy="156.20" r="1.5" fill="#111"/>
<circle cx="375.60" cy="155.80" r="1.5" fill="#111"/>
<circle cx="376.60" cy="155.40" r="1.5" fill="#111"/>
<circle cx="377.60" cy="155.00" r="1.5" fill="#111"/>
<circle cx="378.60" cy="154.60" r="1.5" fill="#111"/>
<circle cx="379.60" cy="155.00" r="1.5" fill="#111"/>
<circle cx="380.60" cy="155.60" r="1.5" fill="#111"/>
<circle cx="381.60" cy="156.00" r="1.5" fill="#111"/>
<circle cx="382.60" cy="156.20" r="1.5" fill="#111"/>
<text x="469.70" y="9.00" font-size="8.0" text-anchor="middle" font-weight="bold" fill="#111"  stroke="#111" stroke-width="0.36">B cells</text>
<line x1="425.00" y1="71.00" x2="425.00" y2="156.60" stroke="#111" stroke-width="0.9" />
<line x1="425.00" y1="156.60" x2="516.00" y2="156.60" stroke="#111" stroke-width="0.9" />
<line x1="423.20" y1="156.60" x2="425.00" y2="156.60" stroke="#111" stroke-width="0.7" />
<text x="423.00" y="158.45" font-size="5.3" text-anchor="end" font-weight="normal" fill="#111" >0</text>
<line x1="423.20" y1="147.12" x2="425.00" y2="147.12" stroke="#111" stroke-width="0.7" />
<text x="423.00" y="148.97" font-size="5.3" text-anchor="end" font-weight="normal" fill="#111" >10</text>
<line x1="423.20" y1="137.64" x2="425.00" y2="137.64" stroke="#111" stroke-width="0.7" />
<text x="423.00" y="139.49" font-size="5.3" text-anchor="end" font-weight="normal" fill="#111" >20</text>
<line x1="423.20" y1="128.17" x2="425.00" y2="128.17" stroke="#111" stroke-width="0.7" />
<text x="423.00" y="130.02" font-size="5.3" text-anchor="end" font-weight="normal" fill="#111" >30</text>
<line x1="423.20" y1="118.69" x2="425.00" y2="118.69" stroke="#111" stroke-width="0.7" />
<text x="423.00" y="120.54" font-size="5.3" text-anchor="end" font-weight="normal" fill="#111" >40</text>
<line x1="423.20" y1="109.21" x2="425.00" y2="109.21" stroke="#111" stroke-width="0.7" />
<text x="423.00" y="111.06" font-size="5.3" text-anchor="end" font-weight="normal" fill="#111" >50</text>
<line x1="423.20" y1="99.73" x2="425.00" y2="99.73" stroke="#111" stroke-width="0.7" />
<text x="423.00" y="101.58" font-size="5.3" text-anchor="end" font-weight="normal" fill="#111" >60</text>
<line x1="423.20" y1="90.26" x2="425.00" y2="90.26" stroke="#111" stroke-width="0.7" />
<text x="423.00" y="92.11" font-size="5.3" text-anchor="end" font-weight="normal" fill="#111" >70</text>
<line x1="423.20" y1="80.78" x2="425.00" y2="80.78" stroke="#111" stroke-width="0.7" />
<text x="423.00" y="82.63" font-size="5.3" text-anchor="end" font-weight="normal" fill="#111" >80</text>
<line x1="423.20" y1="71.30" x2="425.00" y2="71.30" stroke="#111" stroke-width="0.7" />
<text x="423.00" y="73.15" font-size="5.3" text-anchor="end" font-weight="normal" fill="#111" >90</text>
<line x1="433.30" y1="156.60" x2="433.30" y2="157.80" stroke="#111" stroke-width="0.6" />
<line x1="447.80" y1="156.60" x2="447.80" y2="157.80" stroke="#111" stroke-width="0.6" />
<line x1="463.30" y1="156.60" x2="463.30" y2="157.80" stroke="#111" stroke-width="0.6" />
<line x1="478.50" y1="156.60" x2="478.50" y2="157.80" stroke="#111" stroke-width="0.6" />
<line x1="493.30" y1="156.60" x2="493.30" y2="157.80" stroke="#111" stroke-width="0.6" />
<line x1="508.60" y1="156.60" x2="508.60" y2="157.80" stroke="#111" stroke-width="0.6" />
<text transform="translate(412.60,114.30) rotate(-90)" font-size="6.35" font-weight="bold" text-anchor="middle" fill="#111">(%) Donor type B cells</text>
<text transform="translate(434.70,163.60) rotate(-45)" font-size="4.85" font-weight="bold" text-anchor="end" fill="#111">Non-depl WT</text>
<text transform="translate(449.20,163.60) rotate(-45)" font-size="4.85" font-weight="bold" text-anchor="end" fill="#111">CD25depl WT</text>
<text transform="translate(464.70,163.60) rotate(-45)" font-size="4.85" font-weight="bold" text-anchor="end" fill="#111">CD25depl WT + WT Treg</text>
<text transform="translate(479.90,163.60) rotate(-45)" font-size="4.85" font-weight="bold" text-anchor="end" fill="#111">Non-depl J&#945;18<tspan font-size='3.2' dy='-1.6'>-/-</tspan></text>
<text transform="translate(494.70,163.60) rotate(-45)" font-size="4.85" font-weight="bold" text-anchor="end" fill="#111">CD25depl J&#945;18<tspan font-size='3.2' dy='-1.6'>-/-</tspan><tspan dy='1.6'> + WT Treg</tspan></text>
<text transform="translate(510.00,163.60) rotate(-45)" font-size="4.85" font-weight="bold" text-anchor="end" fill="#111">CD25depl  WT + IL-10<tspan font-size='3.2' dy='-1.6'>-/-</tspan><tspan dy='1.6'> Treg</tspan></text>
<path d="M450.20,26.00 Q450.20,23.50 452.20,23.50 L461.65,23.50 Q463.65,23.50 463.65,21.70 Q463.65,23.50 465.65,23.50 L475.10,23.50 Q477.10,23.50 477.10,26.00" fill="none" stroke="#222" stroke-width="0.9"/>
<text x="463.65" y="21.30" font-size="4.7" text-anchor="middle" font-weight="bold" fill="#1a1a1a" >NS</text>
<path d="M433.60,32.80 Q433.60,30.30 435.60,30.30 L453.65,30.30 Q455.65,30.30 455.65,28.50 Q455.65,30.30 457.65,30.30 L475.10,30.30 Q477.10,30.30 477.10,32.80" fill="none" stroke="#222" stroke-width="0.9"/>
<circle cx="453.85" cy="26.50" r="0.75" fill="#1a1a1a"/>
<circle cx="456.15" cy="26.50" r="0.75" fill="#1a1a1a"/>
<circle cx="458.45" cy="26.50" r="0.75" fill="#1a1a1a"/>
<path d="M478.90,35.60 Q478.90,33.10 480.90,33.10 L491.05,33.10 Q493.05,33.10 493.05,31.30 Q493.05,33.10 495.05,33.10 L506.60,33.10 Q508.60,33.10 508.60,35.60" fill="none" stroke="#222" stroke-width="0.9"/>
<circle cx="493.05" cy="29.30" r="0.75" fill="#1a1a1a"/>
<path d="M450.20,40.70 Q450.20,38.20 452.20,38.20 L469.30,38.20 Q471.30,38.20 471.30,36.40 Q471.30,38.20 473.30,38.20 L490.40,38.20 Q492.40,38.20 492.40,40.70" fill="none" stroke="#222" stroke-width="0.9"/>
<text x="471.30" y="36.00" font-size="4.7" text-anchor="middle" font-weight="bold" fill="#1a1a1a" >NS</text>
<path d="M433.60,46.50 Q433.60,44.00 435.60,44.00 L461.30,44.00 Q463.30,44.00 463.30,42.20 Q463.30,44.00 465.30,44.00 L490.40,44.00 Q492.40,44.00 492.40,46.50" fill="none" stroke="#222" stroke-width="0.9"/>
<circle cx="462.15" cy="40.20" r="0.75" fill="#1a1a1a"/>
<circle cx="464.45" cy="40.20" r="0.75" fill="#1a1a1a"/>
<path d="M450.20,54.20 Q450.20,51.70 452.20,51.70 L476.70,51.70 Q478.70,51.70 478.70,49.90 Q478.70,51.70 480.70,51.70 L506.60,51.70 Q508.60,51.70 508.60,54.20" fill="none" stroke="#222" stroke-width="0.9"/>
<text x="478.70" y="49.50" font-size="4.7" text-anchor="middle" font-weight="bold" fill="#1a1a1a" >NS</text>
<path d="M433.60,54.80 Q433.60,52.30 435.60,52.30 L439.30,52.30 Q441.30,52.30 441.30,50.50 Q441.30,52.30 443.30,52.30 L446.40,52.30 Q448.40,52.30 448.40,54.80" fill="none" stroke="#222" stroke-width="0.9"/>
<circle cx="440.15" cy="48.50" r="0.75" fill="#1a1a1a"/>
<circle cx="442.45" cy="48.50" r="0.75" fill="#1a1a1a"/>
<path d="M433.60,59.90 Q433.60,57.40 435.60,57.40 L468.70,57.40 Q470.70,57.40 470.70,55.60 Q470.70,57.40 472.70,57.40 L506.60,57.40 Q508.60,57.40 508.60,59.90" fill="none" stroke="#222" stroke-width="0.9"/>
<circle cx="468.90" cy="53.60" r="0.75" fill="#1a1a1a"/>
<circle cx="471.20" cy="53.60" r="0.75" fill="#1a1a1a"/>
<circle cx="473.50" cy="53.60" r="0.75" fill="#1a1a1a"/>
<path d="M433.60,70.80 Q433.60,68.30 435.60,68.30 L446.40,68.30 Q448.40,68.30 448.40,66.50 Q448.40,68.30 450.40,68.30 L460.60,68.30 Q462.60,68.30 462.60,70.80" fill="none" stroke="#222" stroke-width="0.9"/>
<text x="448.40" y="66.10" font-size="4.7" text-anchor="middle" font-weight="bold" fill="#1a1a1a" >NS</text>
<path d="M464.40,65.90 Q464.40,63.40 466.40,63.40 L476.40,63.40 Q478.40,63.40 478.40,61.60 Q478.40,63.40 480.40,63.40 L490.40,63.40 Q492.40,63.40 492.40,65.90" fill="none" stroke="#222" stroke-width="0.9"/>
<circle cx="477.25" cy="59.60" r="0.75" fill="#1a1a1a"/>
<circle cx="479.55" cy="59.60" r="0.75" fill="#1a1a1a"/>
<path d="M494.20,66.30 Q494.20,63.80 496.20,63.80 L498.70,63.80 Q500.70,63.80 500.70,62.00 Q500.70,63.80 502.70,63.80 L506.60,63.80 Q508.60,63.80 508.60,66.30" fill="none" stroke="#222" stroke-width="0.9"/>
<text x="500.70" y="61.60" font-size="4.7" text-anchor="middle" font-weight="bold" fill="#1a1a1a" >NS</text>
<path d="M464.40,72.40 Q464.40,69.90 466.40,69.90 L483.80,69.90 Q485.80,69.90 485.80,68.10 Q485.80,69.90 487.80,69.90 L506.60,69.90 Q508.60,69.90 508.60,72.40" fill="none" stroke="#222" stroke-width="0.9"/>
<circle cx="485.80" cy="66.10" r="0.75" fill="#1a1a1a"/>
<path d="M450.20,78.30 Q450.20,75.80 452.20,75.80 L454.40,75.80 Q456.40,75.80 456.40,74.00 Q456.40,75.80 458.40,75.80 L460.60,75.80 Q462.60,75.80 462.60,78.30" fill="none" stroke="#222" stroke-width="0.9"/>
<circle cx="455.25" cy="72.00" r="0.75" fill="#1a1a1a"/>
<circle cx="457.55" cy="72.00" r="0.75" fill="#1a1a1a"/>
<path d="M464.40,78.30 Q464.40,75.80 466.40,75.80 L468.75,75.80 Q470.75,75.80 470.75,74.00 Q470.75,75.80 472.75,75.80 L475.10,75.80 Q477.10,75.80 477.10,78.30" fill="none" stroke="#222" stroke-width="0.9"/>
<circle cx="468.95" cy="72.00" r="0.75" fill="#1a1a1a"/>
<circle cx="471.25" cy="72.00" r="0.75" fill="#1a1a1a"/>
<circle cx="473.55" cy="72.00" r="0.75" fill="#1a1a1a"/>
<path d="M478.90,78.30 Q478.90,75.80 480.90,75.80 L483.65,75.80 Q485.65,75.80 485.65,74.00 Q485.65,75.80 487.65,75.80 L490.40,75.80 Q492.40,75.80 492.40,78.30" fill="none" stroke="#222" stroke-width="0.9"/>
<text x="485.65" y="73.60" font-size="4.7" text-anchor="middle" font-weight="bold" fill="#1a1a1a" >NS</text>
<rect x="431.35" y="78.85" width="3.9" height="3.9" fill="#111"/>
<rect x="433.85" y="83.05" width="3.9" height="3.9" fill="#111"/>
<rect x="431.05" y="86.35" width="3.9" height="3.9" fill="#111"/>
<rect x="431.35" y="98.85" width="3.9" height="3.9" fill="#111"/>
<rect x="431.35" y="105.85" width="3.9" height="3.9" fill="#111"/>
<line x1="429.20" y1="92.50" x2="438.00" y2="92.50" stroke="#111" stroke-width="1.0" />
<path d="M466.00,78.19 L467.95,81.70 L464.05,81.70 Z" fill="#111"/>
<path d="M463.30,82.09 L465.25,85.60 L461.35,85.60 Z" fill="#111"/>
<path d="M463.00,95.39 L464.95,98.90 L461.05,98.90 Z" fill="#111"/>
<path d="M466.30,97.09 L468.25,100.60 L464.35,100.60 Z" fill="#111"/>
<path d="M463.00,100.39 L464.95,103.90 L461.05,103.90 Z" fill="#111"/>
<path d="M463.00,107.89 L464.95,111.40 L461.05,111.40 Z" fill="#111"/>
<path d="M463.30,128.19 L465.25,131.70 L461.35,131.70 Z" fill="#111"/>
<path d="M463.50,141.49 L465.45,145.00 L461.55,145.00 Z" fill="#111"/>
<path d="M463.50,153.69 L465.45,157.20 L461.55,157.20 Z" fill="#111"/>
<line x1="458.30" y1="111.50" x2="468.30" y2="111.50" stroke="#111" stroke-width="1.0" />
<path d="M511.30,116.51 L513.25,113.00 L509.35,113.00 Z" fill="#111"/>
<path d="M508.60,119.51 L510.55,116.00 L506.65,116.00 Z" fill="#111"/>
<path d="M508.60,125.01 L510.55,121.50 L506.65,121.50 Z" fill="#111"/>
<path d="M508.60,145.31 L510.55,141.80 L506.65,141.80 Z" fill="#111"/>
<path d="M508.60,152.31 L510.55,148.80 L506.65,148.80 Z" fill="#111"/>
<path d="M506.00,157.71 L507.95,154.20 L504.05,154.20 Z" fill="#111"/>
<path d="M508.60,157.71 L510.55,154.20 L506.65,154.20 Z" fill="#111"/>
<path d="M511.20,157.71 L513.15,154.20 L509.25,154.20 Z" fill="#111"/>
<line x1="504.40" y1="141.10" x2="513.90" y2="141.10" stroke="#111" stroke-width="1.0" />
<circle cx="443.71" cy="156.30" r="1.5" fill="#111"/>
<circle cx="444.73" cy="156.10" r="1.5" fill="#111"/>
<circle cx="445.76" cy="156.00" r="1.5" fill="#111"/>
<circle cx="446.78" cy="155.90" r="1.5" fill="#111"/>
<circle cx="447.80" cy="155.90" r="1.5" fill="#111"/>
<circle cx="448.82" cy="155.90" r="1.5" fill="#111"/>
<circle cx="449.84" cy="156.00" r="1.5" fill="#111"/>
<circle cx="450.87" cy="156.10" r="1.5" fill="#111"/>
<circle cx="451.89" cy="156.30" r="1.5" fill="#111"/>
<circle cx="474.41" cy="156.30" r="1.5" fill="#111"/>
<circle cx="475.43" cy="156.00" r="1.5" fill="#111"/>
<circle cx="476.46" cy="155.80" r="1.5" fill="#111"/>
<circle cx="477.48" cy="155.70" r="1.5" fill="#111"/>
<circle cx="478.50" cy="155.70" r="1.5" fill="#111"/>
<circle cx="479.52" cy="155.80" r="1.5" fill="#111"/>
<circle cx="480.54" cy="156.00" r="1.5" fill="#111"/>
<circle cx="481.57" cy="156.20" r="1.5" fill="#111"/>
<circle cx="482.59" cy="156.30" r="1.5" fill="#111"/>
<circle cx="489.87" cy="156.30" r="1.5" fill="#111"/>
<circle cx="491.01" cy="156.30" r="1.5" fill="#111"/>
<circle cx="492.16" cy="156.30" r="1.5" fill="#111"/>
<circle cx="493.30" cy="156.30" r="1.5" fill="#111"/>
<circle cx="494.44" cy="156.30" r="1.5" fill="#111"/>
<circle cx="495.59" cy="156.30" r="1.5" fill="#111"/>
<circle cx="496.73" cy="156.30" r="1.5" fill="#111"/>
<text x="343.70" y="220.10" font-size="8.0" text-anchor="middle" font-weight="bold" fill="#111"  stroke="#111" stroke-width="0.36">Macrophages</text>
<line x1="297.10" y1="278.20" x2="297.10" y2="364.90" stroke="#111" stroke-width="0.9" />
<line x1="297.10" y1="364.90" x2="387.00" y2="364.90" stroke="#111" stroke-width="0.9" />
<line x1="295.30" y1="364.90" x2="297.10" y2="364.90" stroke="#111" stroke-width="0.7" />
<text x="295.10" y="366.75" font-size="5.3" text-anchor="end" font-weight="normal" fill="#111" >0</text>
<line x1="295.30" y1="354.10" x2="297.10" y2="354.10" stroke="#111" stroke-width="0.7" />
<text x="295.10" y="355.95" font-size="5.3" text-anchor="end" font-weight="normal" fill="#111" >10</text>
<line x1="295.30" y1="343.30" x2="297.10" y2="343.30" stroke="#111" stroke-width="0.7" />
<text x="295.10" y="345.15" font-size="5.3" text-anchor="end" font-weight="normal" fill="#111" >20</text>
<line x1="295.30" y1="332.50" x2="297.10" y2="332.50" stroke="#111" stroke-width="0.7" />
<text x="295.10" y="334.35" font-size="5.3" text-anchor="end" font-weight="normal" fill="#111" >30</text>
<line x1="295.30" y1="321.70" x2="297.10" y2="321.70" stroke="#111" stroke-width="0.7" />
<text x="295.10" y="323.55" font-size="5.3" text-anchor="end" font-weight="normal" fill="#111" >40</text>
<line x1="295.30" y1="310.90" x2="297.10" y2="310.90" stroke="#111" stroke-width="0.7" />
<text x="295.10" y="312.75" font-size="5.3" text-anchor="end" font-weight="normal" fill="#111" >50</text>
<line x1="295.30" y1="300.10" x2="297.10" y2="300.10" stroke="#111" stroke-width="0.7" />
<text x="295.10" y="301.95" font-size="5.3" text-anchor="end" font-weight="normal" fill="#111" >60</text>
<line x1="295.30" y1="289.30" x2="297.10" y2="289.30" stroke="#111" stroke-width="0.7" />
<text x="295.10" y="291.15" font-size="5.3" text-anchor="end" font-weight="normal" fill="#111" >70</text>
<line x1="295.30" y1="278.50" x2="297.10" y2="278.50" stroke="#111" stroke-width="0.7" />
<text x="295.10" y="280.35" font-size="5.3" text-anchor="end" font-weight="normal" fill="#111" >80</text>
<line x1="304.80" y1="364.90" x2="304.80" y2="366.10" stroke="#111" stroke-width="0.6" />
<line x1="319.30" y1="364.90" x2="319.30" y2="366.10" stroke="#111" stroke-width="0.6" />
<line x1="334.80" y1="364.90" x2="334.80" y2="366.10" stroke="#111" stroke-width="0.6" />
<line x1="348.30" y1="364.90" x2="348.30" y2="366.10" stroke="#111" stroke-width="0.6" />
<line x1="363.60" y1="364.90" x2="363.60" y2="366.10" stroke="#111" stroke-width="0.6" />
<line x1="380.20" y1="364.90" x2="380.20" y2="366.10" stroke="#111" stroke-width="0.6" />
<text transform="translate(283.20,322.60) rotate(-90)" font-size="6.35" font-weight="bold" text-anchor="middle" fill="#111">(%) Donor type Macrophages</text>
<text transform="translate(305.60,371.40) rotate(-45)" font-size="4.85" font-weight="bold" text-anchor="end" fill="#111">Non-depl WT</text>
<text transform="translate(320.10,371.40) rotate(-45)" font-size="4.85" font-weight="bold" text-anchor="end" fill="#111">CD25depl WT</text>
<text transform="translate(335.60,371.40) rotate(-45)" font-size="4.85" font-weight="bold" text-anchor="end" fill="#111">CD25depl WT + WT Treg</text>
<text transform="translate(349.10,371.40) rotate(-45)" font-size="4.85" font-weight="bold" text-anchor="end" fill="#111">Non-depl J&#945;18<tspan font-size='3.2' dy='-1.6'>-/-</tspan></text>
<text transform="translate(364.40,371.40) rotate(-45)" font-size="4.85" font-weight="bold" text-anchor="end" fill="#111">CD25depl J&#945;18<tspan font-size='3.2' dy='-1.6'>-/-</tspan><tspan dy='1.6'> + WT Treg</tspan></text>
<text transform="translate(381.00,371.40) rotate(-45)" font-size="4.85" font-weight="bold" text-anchor="end" fill="#111">CD25depl  WT + IL-10<tspan font-size='3.2' dy='-1.6'>-/-</tspan><tspan dy='1.6'> Treg</tspan></text>
<path d="M321.30,236.60 Q321.30,234.10 323.30,234.10 L332.90,234.10 Q334.90,234.10 334.90,232.30 Q334.90,234.10 336.90,234.10 L346.50,234.10 Q348.50,234.10 348.50,236.60" fill="none" stroke="#222" stroke-width="0.9"/>
<text x="334.90" y="231.90" font-size="4.7" text-anchor="middle" font-weight="bold" fill="#1a1a1a" >NS</text>
<path d="M305.10,243.20 Q305.10,240.70 307.10,240.70 L325.10,240.70 Q327.10,240.70 327.10,238.90 Q327.10,240.70 329.10,240.70 L346.50,240.70 Q348.50,240.70 348.50,243.20" fill="none" stroke="#222" stroke-width="0.9"/>
<circle cx="325.30" cy="236.90" r="0.75" fill="#1a1a1a"/>
<circle cx="327.60" cy="236.90" r="0.75" fill="#1a1a1a"/>
<circle cx="329.90" cy="236.90" r="0.75" fill="#1a1a1a"/>
<path d="M350.30,246.60 Q350.30,244.10 352.30,244.10 L362.40,244.10 Q364.40,244.10 364.40,242.30 Q364.40,244.10 366.40,244.10 L377.90,244.10 Q379.90,244.10 379.90,246.60" fill="none" stroke="#222" stroke-width="0.9"/>
<circle cx="364.40" cy="240.30" r="0.75" fill="#1a1a1a"/>
<path d="M321.30,251.10 Q321.30,248.60 323.30,248.60 L340.40,248.60 Q342.40,248.60 342.40,246.80 Q342.40,248.60 344.40,248.60 L361.50,248.60 Q363.50,248.60 363.50,251.10" fill="none" stroke="#222" stroke-width="0.9"/>
<text x="342.40" y="246.40" font-size="4.7" text-anchor="middle" font-weight="bold" fill="#1a1a1a" >NS</text>
<path d="M305.10,257.20 Q305.10,254.70 307.10,254.70 L332.60,254.70 Q334.60,254.70 334.60,252.90 Q334.60,254.70 336.60,254.70 L361.50,254.70 Q363.50,254.70 363.50,257.20" fill="none" stroke="#222" stroke-width="0.9"/>
<circle cx="332.80" cy="250.90" r="0.75" fill="#1a1a1a"/>
<circle cx="335.10" cy="250.90" r="0.75" fill="#1a1a1a"/>
<circle cx="337.40" cy="250.90" r="0.75" fill="#1a1a1a"/>
<path d="M321.30,264.70 Q321.30,262.20 323.30,262.20 L347.90,262.20 Q349.90,262.20 349.90,260.40 Q349.90,262.20 351.90,262.20 L377.90,262.20 Q379.90,262.20 379.90,264.70" fill="none" stroke="#222" stroke-width="0.9"/>
<text x="349.90" y="260.00" font-size="4.7" text-anchor="middle" font-weight="bold" fill="#1a1a1a" >NS</text>
<path d="M305.10,265.90 Q305.10,263.40 307.10,263.40 L310.60,263.40 Q312.60,263.40 312.60,261.60 Q312.60,263.40 314.60,263.40 L317.50,263.40 Q319.50,263.40 319.50,265.90" fill="none" stroke="#222" stroke-width="0.9"/>
<circle cx="310.80" cy="259.60" r="0.75" fill="#1a1a1a"/>
<circle cx="313.10" cy="259.60" r="0.75" fill="#1a1a1a"/>
<circle cx="315.40" cy="259.60" r="0.75" fill="#1a1a1a"/>
<path d="M305.10,270.90 Q305.10,268.40 307.10,268.40 L340.10,268.40 Q342.10,268.40 342.10,266.60 Q342.10,268.40 344.10,268.40 L377.90,268.40 Q379.90,268.40 379.90,270.90" fill="none" stroke="#222" stroke-width="0.9"/>
<circle cx="340.30" cy="264.60" r="0.75" fill="#1a1a1a"/>
<circle cx="342.60" cy="264.60" r="0.75" fill="#1a1a1a"/>
<circle cx="344.90" cy="264.60" r="0.75" fill="#1a1a1a"/>
<path d="M305.10,281.60 Q305.10,279.10 307.10,279.10 L317.70,279.10 Q319.70,279.10 319.70,277.30 Q319.70,279.10 321.70,279.10 L331.70,279.10 Q333.70,279.10 333.70,281.60" fill="none" stroke="#222" stroke-width="0.9"/>
<circle cx="319.70" cy="275.30" r="0.75" fill="#1a1a1a"/>
<path d="M335.50,277.10 Q335.50,274.60 337.50,274.60 L347.50,274.60 Q349.50,274.60 349.50,272.80 Q349.50,274.60 351.50,274.60 L361.50,274.60 Q363.50,274.60 363.50,277.10" fill="none" stroke="#222" stroke-width="0.9"/>
<circle cx="348.35" cy="270.80" r="0.75" fill="#1a1a1a"/>
<circle cx="350.65" cy="270.80" r="0.75" fill="#1a1a1a"/>
<path d="M365.30,277.30 Q365.30,274.80 367.30,274.80 L369.90,274.80 Q371.90,274.80 371.90,273.00 Q371.90,274.80 373.90,274.80 L377.90,274.80 Q379.90,274.80 379.90,277.30" fill="none" stroke="#222" stroke-width="0.9"/>
<text x="371.90" y="272.60" font-size="4.7" text-anchor="middle" font-weight="bold" fill="#1a1a1a" >NS</text>
<path d="M335.50,282.80 Q335.50,280.30 337.50,280.30 L355.00,280.30 Q357.00,280.30 357.00,278.50 Q357.00,280.30 359.00,280.30 L377.90,280.30 Q379.90,280.30 379.90,282.80" fill="none" stroke="#222" stroke-width="0.9"/>
<circle cx="355.20" cy="276.50" r="0.75" fill="#1a1a1a"/>
<circle cx="357.50" cy="276.50" r="0.75" fill="#1a1a1a"/>
<circle cx="359.80" cy="276.50" r="0.75" fill="#1a1a1a"/>
<path d="M321.30,289.30 Q321.30,286.80 323.30,286.80 L325.50,286.80 Q327.50,286.80 327.50,285.00 Q327.50,286.80 329.50,286.80 L331.70,286.80 Q333.70,286.80 333.70,289.30" fill="none" stroke="#222" stroke-width="0.9"/>
<circle cx="325.70" cy="283.00" r="0.75" fill="#1a1a1a"/>
<circle cx="328.00" cy="283.00" r="0.75" fill="#1a1a1a"/>
<circle cx="330.30" cy="283.00" r="0.75" fill="#1a1a1a"/>
<path d="M335.50,289.30 Q335.50,286.80 337.50,286.80 L340.00,286.80 Q342.00,286.80 342.00,285.00 Q342.00,286.80 344.00,286.80 L346.50,286.80 Q348.50,286.80 348.50,289.30" fill="none" stroke="#222" stroke-width="0.9"/>
<circle cx="340.20" cy="283.00" r="0.75" fill="#1a1a1a"/>
<circle cx="342.50" cy="283.00" r="0.75" fill="#1a1a1a"/>
<circle cx="344.80" cy="283.00" r="0.75" fill="#1a1a1a"/>
<path d="M350.30,289.30 Q350.30,286.80 352.30,286.80 L354.90,286.80 Q356.90,286.80 356.90,285.00 Q356.90,286.80 358.90,286.80 L361.50,286.80 Q363.50,286.80 363.50,289.30" fill="none" stroke="#222" stroke-width="0.9"/>
<text x="356.90" y="284.60" font-size="4.7" text-anchor="middle" font-weight="bold" fill="#1a1a1a" >NS</text>
<rect x="300.05" y="290.55" width="3.9" height="3.9" fill="#111"/>
<rect x="306.05" y="290.55" width="3.9" height="3.9" fill="#111"/>
<rect x="303.05" y="293.85" width="3.9" height="3.9" fill="#111"/>
<rect x="302.75" y="299.75" width="3.9" height="3.9" fill="#111"/>
<rect x="302.75" y="316.05" width="3.9" height="3.9" fill="#111"/>
<line x1="300.80" y1="300.20" x2="310.00" y2="300.20" stroke="#111" stroke-width="1.0" />
<path d="M337.80,292.89 L339.75,296.40 L335.85,296.40 Z" fill="#111"/>
<path d="M334.60,295.69 L336.55,299.20 L332.65,299.20 Z" fill="#111"/>
<path d="M335.00,314.89 L336.95,318.40 L333.05,318.40 Z" fill="#111"/>
<path d="M332.50,324.59 L334.45,328.10 L330.55,328.10 Z" fill="#111"/>
<path d="M337.50,325.39 L339.45,328.90 L335.55,328.90 Z" fill="#111"/>
<path d="M335.00,328.69 L336.95,332.20 L333.05,332.20 Z" fill="#111"/>
<path d="M335.00,345.69 L336.95,349.20 L333.05,349.20 Z" fill="#111"/>
<path d="M334.80,361.09 L336.75,364.60 L332.85,364.60 Z" fill="#111"/>
<line x1="330.20" y1="325.90" x2="339.40" y2="325.90" stroke="#111" stroke-width="1.0" />
<path d="M380.00,340.04 L381.70,336.98 L378.30,336.98 Z" fill="#111"/>
<path d="M379.80,354.64 L381.50,351.58 L378.10,351.58 Z" fill="#111"/>
<path d="M382.90,357.24 L384.60,354.18 L381.20,354.18 Z" fill="#111"/>
<path d="M376.80,360.84 L378.50,357.78 L375.10,357.78 Z" fill="#111"/>
<path d="M379.80,360.84 L381.50,357.78 L378.10,357.78 Z" fill="#111"/>
<path d="M376.50,365.84 L378.20,362.78 L374.80,362.78 Z" fill="#111"/>
<path d="M379.30,365.84 L381.00,362.78 L377.60,362.78 Z" fill="#111"/>
<path d="M382.20,365.84 L383.90,362.78 L380.50,362.78 Z" fill="#111"/>
<path d="M384.00,365.84 L385.70,362.78 L382.30,362.78 Z" fill="#111"/>
<line x1="374.80" y1="358.30" x2="383.90" y2="358.30" stroke="#111" stroke-width="1.0" />
<circle cx="315.21" cy="364.00" r="1.5" fill="#111"/>
<circle cx="316.23" cy="364.00" r="1.5" fill="#111"/>
<circle cx="317.26" cy="364.00" r="1.5" fill="#111"/>
<circle cx="318.28" cy="364.00" r="1.5" fill="#111"/>
<circle cx="319.30" cy="364.00" r="1.5" fill="#111"/>
<circle cx="320.32" cy="364.00" r="1.5" fill="#111"/>
<circle cx="321.34" cy="364.00" r="1.5" fill="#111"/>
<circle cx="322.37" cy="364.00" r="1.5" fill="#111"/>
<circle cx="323.39" cy="364.00" r="1.5" fill="#111"/>
<circle cx="344.46" cy="364.20" r="1.5" fill="#111"/>
<circle cx="345.38" cy="363.60" r="1.5" fill="#111"/>
<circle cx="346.30" cy="363.00" r="1.5" fill="#111"/>
<circle cx="347.22" cy="362.40" r="1.5" fill="#111"/>
<circle cx="348.14" cy="362.00" r="1.5" fill="#111"/>
<circle cx="349.06" cy="362.40" r="1.5" fill="#111"/>
<circle cx="349.98" cy="363.00" r="1.5" fill="#111"/>
<circle cx="350.90" cy="363.60" r="1.5" fill="#111"/>
<circle cx="351.82" cy="363.90" r="1.5" fill="#111"/>
<circle cx="352.74" cy="364.20" r="1.5" fill="#111"/>
<circle cx="346.10" cy="363.10" r="1.5" fill="#111"/>
<circle cx="347.10" cy="362.60" r="1.5" fill="#111"/>
<circle cx="348.10" cy="362.10" r="1.5" fill="#111"/>
<circle cx="349.10" cy="362.10" r="1.5" fill="#111"/>
<circle cx="350.10" cy="362.60" r="1.5" fill="#111"/>
<circle cx="351.10" cy="363.10" r="1.5" fill="#111"/>
<path d="M360.00,361.20 L361.30,362.50 L360.00,363.80 L358.70,362.50 Z" fill="#111" />
<path d="M362.00,361.20 L363.30,362.50 L362.00,363.80 L360.70,362.50 Z" fill="#111" />
<path d="M364.50,362.10 L365.80,363.40 L364.50,364.70 L363.20,363.40 Z" fill="#111" />
<path d="M367.00,362.10 L368.30,363.40 L367.00,364.70 L365.70,363.40 Z" fill="#111" />
<path d="M369.00,362.30 L370.30,363.60 L369.00,364.90 L367.70,363.60 Z" fill="#111" />
<text x="472.00" y="220.70" font-size="8.0" text-anchor="middle" font-weight="bold" fill="#111"  stroke="#111" stroke-width="0.36">Granulocytes</text>
<line x1="425.50" y1="278.40" x2="425.50" y2="365.50" stroke="#111" stroke-width="0.9" />
<line x1="425.50" y1="365.50" x2="516.40" y2="365.50" stroke="#111" stroke-width="0.9" />
<line x1="423.70" y1="365.50" x2="425.50" y2="365.50" stroke="#111" stroke-width="0.7" />
<text x="423.50" y="367.35" font-size="5.3" text-anchor="end" font-weight="normal" fill="#111" >0</text>
<line x1="423.70" y1="353.10" x2="425.50" y2="353.10" stroke="#111" stroke-width="0.7" />
<text x="423.50" y="354.95" font-size="5.3" text-anchor="end" font-weight="normal" fill="#111" >10</text>
<line x1="423.70" y1="340.70" x2="425.50" y2="340.70" stroke="#111" stroke-width="0.7" />
<text x="423.50" y="342.55" font-size="5.3" text-anchor="end" font-weight="normal" fill="#111" >20</text>
<line x1="423.70" y1="328.30" x2="425.50" y2="328.30" stroke="#111" stroke-width="0.7" />
<text x="423.50" y="330.15" font-size="5.3" text-anchor="end" font-weight="normal" fill="#111" >30</text>
<line x1="423.70" y1="315.90" x2="425.50" y2="315.90" stroke="#111" stroke-width="0.7" />
<text x="423.50" y="317.75" font-size="5.3" text-anchor="end" font-weight="normal" fill="#111" >40</text>
<line x1="423.70" y1="303.50" x2="425.50" y2="303.50" stroke="#111" stroke-width="0.7" />
<text x="423.50" y="305.35" font-size="5.3" text-anchor="end" font-weight="normal" fill="#111" >50</text>
<line x1="423.70" y1="291.10" x2="425.50" y2="291.10" stroke="#111" stroke-width="0.7" />
<text x="423.50" y="292.95" font-size="5.3" text-anchor="end" font-weight="normal" fill="#111" >60</text>
<line x1="423.70" y1="278.70" x2="425.50" y2="278.70" stroke="#111" stroke-width="0.7" />
<text x="423.50" y="280.55" font-size="5.3" text-anchor="end" font-weight="normal" fill="#111" >70</text>
<line x1="433.00" y1="365.50" x2="433.00" y2="366.70" stroke="#111" stroke-width="0.6" />
<line x1="447.80" y1="365.50" x2="447.80" y2="366.70" stroke="#111" stroke-width="0.6" />
<line x1="463.80" y1="365.50" x2="463.80" y2="366.70" stroke="#111" stroke-width="0.6" />
<line x1="479.10" y1="365.50" x2="479.10" y2="366.70" stroke="#111" stroke-width="0.6" />
<line x1="493.60" y1="365.50" x2="493.60" y2="366.70" stroke="#111" stroke-width="0.6" />
<line x1="509.90" y1="365.50" x2="509.90" y2="366.70" stroke="#111" stroke-width="0.6" />
<text transform="translate(412.40,322.40) rotate(-90)" font-size="6.35" font-weight="bold" text-anchor="middle" fill="#111">(%) Donor type Granulocytes</text>
<text transform="translate(435.00,371.60) rotate(-45)" font-size="4.85" font-weight="bold" text-anchor="end" fill="#111">Non-depl WT</text>
<text transform="translate(449.80,371.60) rotate(-45)" font-size="4.85" font-weight="bold" text-anchor="end" fill="#111">CD25depl WT</text>
<text transform="translate(465.80,371.60) rotate(-45)" font-size="4.85" font-weight="bold" text-anchor="end" fill="#111">CD25depl WT + WT Treg</text>
<text transform="translate(481.10,371.60) rotate(-45)" font-size="4.85" font-weight="bold" text-anchor="end" fill="#111">Non-depl J&#945;18<tspan font-size='3.2' dy='-1.6'>-/-</tspan></text>
<text transform="translate(495.60,371.60) rotate(-45)" font-size="4.85" font-weight="bold" text-anchor="end" fill="#111">CD25depl J&#945;18<tspan font-size='3.2' dy='-1.6'>-/-</tspan><tspan dy='1.6'> + WT Treg</tspan></text>
<text transform="translate(511.90,371.60) rotate(-45)" font-size="4.85" font-weight="bold" text-anchor="end" fill="#111">CD25depl  WT + IL-10<tspan font-size='3.2' dy='-1.6'>-/-</tspan><tspan dy='1.6'> Treg</tspan></text>
<path d="M450.00,235.70 Q450.00,233.20 452.00,233.20 L462.10,233.20 Q464.10,233.20 464.10,231.40 Q464.10,233.20 466.10,233.20 L476.20,233.20 Q478.20,233.20 478.20,235.70" fill="none" stroke="#222" stroke-width="0.9"/>
<circle cx="462.95" cy="229.40" r="0.75" fill="#1a1a1a"/>
<circle cx="465.25" cy="229.40" r="0.75" fill="#1a1a1a"/>
<path d="M433.20,242.50 Q433.20,240.00 435.20,240.00 L454.00,240.00 Q456.00,240.00 456.00,238.20 Q456.00,240.00 458.00,240.00 L476.20,240.00 Q478.20,240.00 478.20,242.50" fill="none" stroke="#222" stroke-width="0.9"/>
<circle cx="454.20" cy="236.20" r="0.75" fill="#1a1a1a"/>
<circle cx="456.50" cy="236.20" r="0.75" fill="#1a1a1a"/>
<circle cx="458.80" cy="236.20" r="0.75" fill="#1a1a1a"/>
<path d="M480.00,245.60 Q480.00,243.10 482.00,243.10 L491.85,243.10 Q493.85,243.10 493.85,241.30 Q493.85,243.10 495.85,243.10 L507.10,243.10 Q509.10,243.10 509.10,245.60" fill="none" stroke="#222" stroke-width="0.9"/>
<text x="493.85" y="240.90" font-size="4.7" text-anchor="middle" font-weight="bold" fill="#1a1a1a" >NS</text>
<path d="M450.00,250.00 Q450.00,247.50 452.00,247.50 L469.20,247.50 Q471.20,247.50 471.20,245.70 Q471.20,247.50 473.20,247.50 L490.40,247.50 Q492.40,247.50 492.40,250.00" fill="none" stroke="#222" stroke-width="0.9"/>
<text x="471.20" y="245.30" font-size="4.7" text-anchor="middle" font-weight="bold" fill="#1a1a1a" >NS</text>
<path d="M433.20,256.00 Q433.20,253.50 435.20,253.50 L461.10,253.50 Q463.10,253.50 463.10,251.70 Q463.10,253.50 465.10,253.50 L490.40,253.50 Q492.40,253.50 492.40,256.00" fill="none" stroke="#222" stroke-width="0.9"/>
<circle cx="461.30" cy="249.70" r="0.75" fill="#1a1a1a"/>
<circle cx="463.60" cy="249.70" r="0.75" fill="#1a1a1a"/>
<circle cx="465.90" cy="249.70" r="0.75" fill="#1a1a1a"/>
<path d="M450.00,264.10 Q450.00,261.60 452.00,261.60 L476.85,261.60 Q478.85,261.60 478.85,259.80 Q478.85,261.60 480.85,261.60 L507.10,261.60 Q509.10,261.60 509.10,264.10" fill="none" stroke="#222" stroke-width="0.9"/>
<text x="478.85" y="259.40" font-size="4.7" text-anchor="middle" font-weight="bold" fill="#1a1a1a" >NS</text>
<path d="M433.20,264.60 Q433.20,262.10 435.20,262.10 L439.00,262.10 Q441.00,262.10 441.00,260.30 Q441.00,262.10 443.00,262.10 L446.20,262.10 Q448.20,262.10 448.20,264.60" fill="none" stroke="#222" stroke-width="0.9"/>
<circle cx="439.20" cy="258.30" r="0.75" fill="#1a1a1a"/>
<circle cx="441.50" cy="258.30" r="0.75" fill="#1a1a1a"/>
<circle cx="443.80" cy="258.30" r="0.75" fill="#1a1a1a"/>
<path d="M433.20,269.50 Q433.20,267.00 435.20,267.00 L468.75,267.00 Q470.75,267.00 470.75,265.20 Q470.75,267.00 472.75,267.00 L507.10,267.00 Q509.10,267.00 509.10,269.50" fill="none" stroke="#222" stroke-width="0.9"/>
<circle cx="468.95" cy="263.20" r="0.75" fill="#1a1a1a"/>
<circle cx="471.25" cy="263.20" r="0.75" fill="#1a1a1a"/>
<circle cx="473.55" cy="263.20" r="0.75" fill="#1a1a1a"/>
<path d="M433.20,280.60 Q433.20,278.10 435.20,278.10 L446.30,278.10 Q448.30,278.10 448.30,276.30 Q448.30,278.10 450.30,278.10 L460.80,278.10 Q462.80,278.10 462.80,280.60" fill="none" stroke="#222" stroke-width="0.9"/>
<text x="448.30" y="275.90" font-size="4.7" text-anchor="middle" font-weight="bold" fill="#1a1a1a" >NS</text>
<path d="M464.60,275.60 Q464.60,273.10 466.60,273.10 L476.50,273.10 Q478.50,273.10 478.50,271.30 Q478.50,273.10 480.50,273.10 L490.40,273.10 Q492.40,273.10 492.40,275.60" fill="none" stroke="#222" stroke-width="0.9"/>
<circle cx="476.70" cy="269.30" r="0.75" fill="#1a1a1a"/>
<circle cx="479.00" cy="269.30" r="0.75" fill="#1a1a1a"/>
<circle cx="481.30" cy="269.30" r="0.75" fill="#1a1a1a"/>
<path d="M494.20,276.30 Q494.20,273.80 496.20,273.80 L498.95,273.80 Q500.95,273.80 500.95,272.00 Q500.95,273.80 502.95,273.80 L507.10,273.80 Q509.10,273.80 509.10,276.30" fill="none" stroke="#222" stroke-width="0.9"/>
<text x="500.95" y="271.60" font-size="4.7" text-anchor="middle" font-weight="bold" fill="#1a1a1a" >NS</text>
<path d="M464.60,281.60 Q464.60,279.10 466.60,279.10 L484.15,279.10 Q486.15,279.10 486.15,277.30 Q486.15,279.10 488.15,279.10 L507.10,279.10 Q509.10,279.10 509.10,281.60" fill="none" stroke="#222" stroke-width="0.9"/>
<circle cx="484.35" cy="275.30" r="0.75" fill="#1a1a1a"/>
<circle cx="486.65" cy="275.30" r="0.75" fill="#1a1a1a"/>
<circle cx="488.95" cy="275.30" r="0.75" fill="#1a1a1a"/>
<path d="M450.00,288.30 Q450.00,285.80 452.00,285.80 L454.40,285.80 Q456.40,285.80 456.40,284.00 Q456.40,285.80 458.40,285.80 L460.80,285.80 Q462.80,285.80 462.80,288.30" fill="none" stroke="#222" stroke-width="0.9"/>
<circle cx="454.60" cy="282.00" r="0.75" fill="#1a1a1a"/>
<circle cx="456.90" cy="282.00" r="0.75" fill="#1a1a1a"/>
<circle cx="459.20" cy="282.00" r="0.75" fill="#1a1a1a"/>
<path d="M464.60,288.30 Q464.60,285.80 466.60,285.80 L469.40,285.80 Q471.40,285.80 471.40,284.00 Q471.40,285.80 473.40,285.80 L476.20,285.80 Q478.20,285.80 478.20,288.30" fill="none" stroke="#222" stroke-width="0.9"/>
<circle cx="469.60" cy="282.00" r="0.75" fill="#1a1a1a"/>
<circle cx="471.90" cy="282.00" r="0.75" fill="#1a1a1a"/>
<circle cx="474.20" cy="282.00" r="0.75" fill="#1a1a1a"/>
<path d="M480.00,288.30 Q480.00,285.80 482.00,285.80 L484.20,285.80 Q486.20,285.80 486.20,284.00 Q486.20,285.80 488.20,285.80 L490.40,285.80 Q492.40,285.80 492.40,288.30" fill="none" stroke="#222" stroke-width="0.9"/>
<text x="486.20" y="283.60" font-size="4.7" text-anchor="middle" font-weight="bold" fill="#1a1a1a" >NS</text>
<rect x="428.35" y="303.85" width="3.9" height="3.9" fill="#111"/>
<rect x="434.75" y="303.85" width="3.9" height="3.9" fill="#111"/>
<rect x="431.05" y="306.35" width="3.9" height="3.9" fill="#111"/>
<rect x="433.85" y="312.25" width="3.9" height="3.9" fill="#111"/>
<rect x="431.05" y="313.85" width="3.9" height="3.9" fill="#111"/>
<line x1="429.20" y1="310.30" x2="438.70" y2="310.30" stroke="#111" stroke-width="1.0" />
<path d="M463.70,293.19 L465.65,296.70 L461.75,296.70 Z" fill="#111"/>
<path d="M463.70,304.59 L465.65,308.10 L461.75,308.10 Z" fill="#111"/>
<path d="M463.70,312.89 L465.65,316.40 L461.75,316.40 Z" fill="#111"/>
<path d="M466.70,314.59 L468.65,318.10 L464.75,318.10 Z" fill="#111"/>
<path d="M463.70,318.19 L465.65,321.70 L461.75,321.70 Z" fill="#111"/>
<path d="M463.70,323.69 L465.65,327.20 L461.75,327.20 Z" fill="#111"/>
<path d="M464.00,331.29 L465.95,334.80 L462.05,334.80 Z" fill="#111"/>
<path d="M464.00,342.99 L465.95,346.50 L462.05,346.50 Z" fill="#111"/>
<path d="M464.00,349.49 L465.95,353.00 L462.05,353.00 Z" fill="#111"/>
<line x1="459.20" y1="323.30" x2="468.70" y2="323.30" stroke="#111" stroke-width="1.0" />
<circle cx="443.71" cy="364.80" r="1.5" fill="#111"/>
<circle cx="444.73" cy="364.80" r="1.5" fill="#111"/>
<circle cx="445.76" cy="364.80" r="1.5" fill="#111"/>
<circle cx="446.78" cy="364.80" r="1.5" fill="#111"/>
<circle cx="447.80" cy="364.80" r="1.5" fill="#111"/>
<circle cx="448.82" cy="364.80" r="1.5" fill="#111"/>
<circle cx="449.84" cy="364.80" r="1.5" fill="#111"/>
<circle cx="450.87" cy="364.80" r="1.5" fill="#111"/>
<circle cx="451.89" cy="364.80" r="1.5" fill="#111"/>
<path d="M476.00,358.90 L477.70,360.60 L476.00,362.30 L474.30,360.60 Z" fill="#fff" stroke="#000" stroke-width="0.9"/>
<path d="M478.80,357.70 L480.50,359.40 L478.80,361.10 L477.10,359.40 Z" fill="#fff" stroke="#000" stroke-width="0.9"/>
<path d="M481.60,359.10 L483.30,360.80 L481.60,362.50 L479.90,360.80 Z" fill="#fff" stroke="#000" stroke-width="0.9"/>
<path d="M477.00,361.50 L478.70,363.20 L477.00,364.90 L475.30,363.20 Z" fill="#fff" stroke="#000" stroke-width="0.9"/>
<path d="M480.20,360.90 L481.90,362.60 L480.20,364.30 L478.50,362.60 Z" fill="#fff" stroke="#000" stroke-width="0.9"/>
<path d="M482.60,361.90 L484.30,363.60 L482.60,365.30 L480.90,363.60 Z" fill="#fff" stroke="#000" stroke-width="0.9"/>
<path d="M475.40,362.30 L477.10,364.00 L475.40,365.70 L473.70,364.00 Z" fill="#fff" stroke="#000" stroke-width="0.9"/>
<path d="M479.00,362.50 L480.70,364.20 L479.00,365.90 L477.30,364.20 Z" fill="#fff" stroke="#000" stroke-width="0.9"/>
<path d="M490.80,361.00 L492.20,362.40 L490.80,363.80 L489.40,362.40 Z" fill="#111" />
<path d="M492.60,359.20 L494.00,360.60 L492.60,362.00 L491.20,360.60 Z" fill="#111" />
<path d="M494.40,360.60 L495.80,362.00 L494.40,363.40 L493.00,362.00 Z" fill="#111" />
<path d="M496.40,361.40 L497.80,362.80 L496.40,364.20 L495.00,362.80 Z" fill="#111" />
<path d="M498.00,361.80 L499.40,363.20 L498.00,364.60 L496.60,363.20 Z" fill="#111" />
<path d="M492.60,362.20 L494.00,363.60 L492.60,365.00 L491.20,363.60 Z" fill="#111" />
<path d="M509.90,343.61 L511.85,340.10 L507.95,340.10 Z" fill="#111"/>
<line x1="504.40" y1="360.60" x2="514.50" y2="360.60" stroke="#111" stroke-width="1.0" />
<path d="M506.20,363.53 L507.80,360.65 L504.60,360.65 Z" fill="#111"/>
<path d="M509.40,361.53 L511.00,358.65 L507.80,358.65 Z" fill="#111"/>
<path d="M512.00,363.93 L513.60,361.05 L510.40,361.05 Z" fill="#111"/>
<path d="M507.60,365.53 L509.20,362.65 L506.00,362.65 Z" fill="#111"/>
<path d="M510.80,366.13 L512.40,363.25 L509.20,363.25 Z" fill="#111"/>
<path d="M513.20,366.33 L514.80,363.45 L511.60,363.45 Z" fill="#111"/>
</svg></body></html>
